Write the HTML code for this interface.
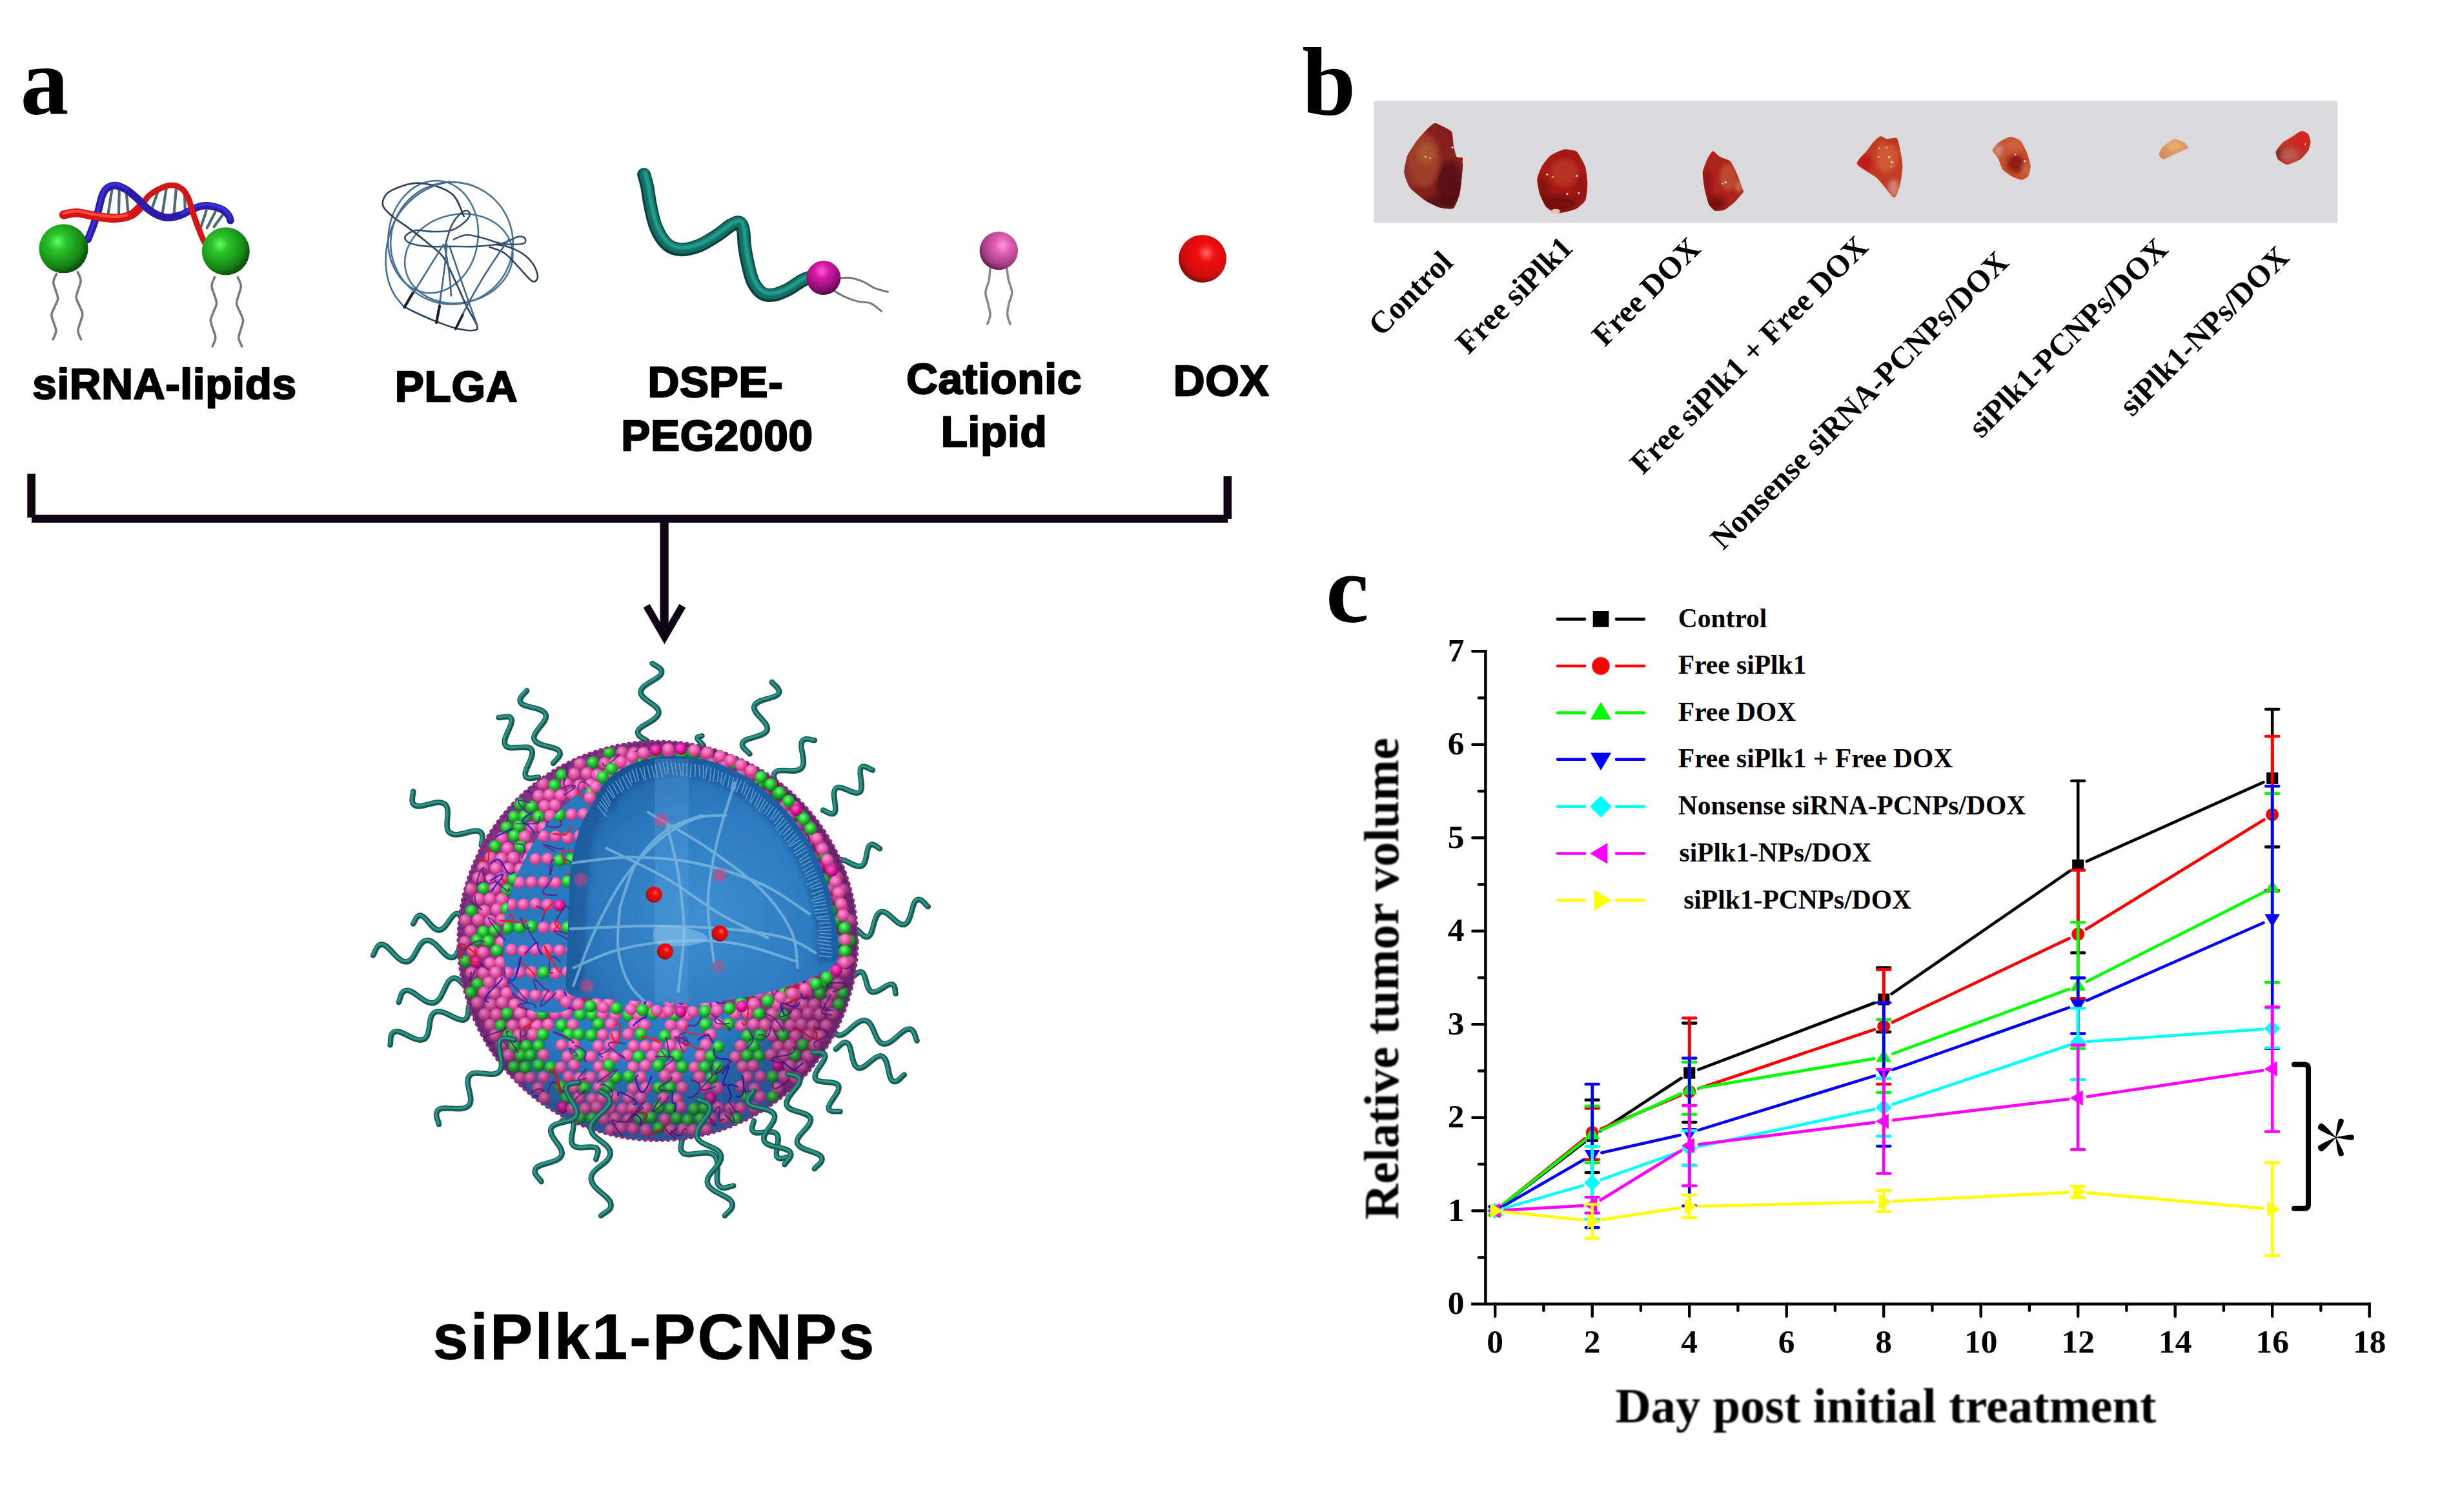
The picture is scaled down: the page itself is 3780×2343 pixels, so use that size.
<!DOCTYPE html>
<html><head><meta charset="utf-8"><title>Figure</title>
<style>html,body{margin:0;padding:0;background:#fff;}svg{display:block;}text{white-space:pre;}.cp{r:9.3px;fill:url(#bP)}.cg{r:9.6px;fill:url(#bG)}.cm{r:9.3px;fill:url(#bM)}</style></head><body>
<svg width="3780" height="2343" viewBox="0 0 3780 2343">
<defs>
<radialGradient id="gGreen" cx="0.38" cy="0.36" r="0.7"><stop offset="0" stop-color="#63ff63"/><stop offset="0.25" stop-color="#2bc32b"/><stop offset="0.7" stop-color="#168a16"/><stop offset="1" stop-color="#083f08"/></radialGradient>
<radialGradient id="gPink" cx="0.6" cy="0.36" r="0.7"><stop offset="0" stop-color="#ff9ae0"/><stop offset="0.3" stop-color="#e15fb4"/><stop offset="0.75" stop-color="#a23c82"/><stop offset="1" stop-color="#4a1840"/></radialGradient>
<radialGradient id="gMag" cx="0.45" cy="0.3" r="0.75"><stop offset="0" stop-color="#ff5ad8"/><stop offset="0.3" stop-color="#d417a6"/><stop offset="0.7" stop-color="#8f0f73"/><stop offset="1" stop-color="#3c0838"/></radialGradient>
<radialGradient id="gRed" cx="0.58" cy="0.38" r="0.7"><stop offset="0" stop-color="#ff6a6a"/><stop offset="0.25" stop-color="#f31212"/><stop offset="0.7" stop-color="#cf0a0a"/><stop offset="1" stop-color="#5e0505"/></radialGradient>
<linearGradient id="gTeal" x1="0" y1="0" x2="1" y2="1"><stop offset="0" stop-color="#17907f"/><stop offset="1" stop-color="#0f5a52"/></linearGradient>
<filter id="blur05" x="-20%" y="-20%" width="140%" height="140%"><feGaussianBlur stdDeviation="0.7"/></filter>
<filter id="blur1" x="-5%" y="-20%" width="110%" height="140%"><feGaussianBlur stdDeviation="1.3"/></filter>
<filter id="blur15" x="-10%" y="-10%" width="120%" height="120%"><feGaussianBlur stdDeviation="1.6"/></filter>
<filter id="blur3" x="-10%" y="-10%" width="120%" height="120%"><feGaussianBlur stdDeviation="3"/></filter>

<radialGradient id="npCav" gradientUnits="userSpaceOnUse" cx="1090" cy="1420" r="300"><stop offset="0" stop-color="#3f8fd0"/><stop offset="0.55" stop-color="#2c78bd"/><stop offset="1" stop-color="#1b579a"/></radialGradient>
<radialGradient id="npShade" gradientUnits="userSpaceOnUse" cx="979" cy="1418" r="317"><stop offset="0.72" stop-color="#000" stop-opacity="0"/><stop offset="1" stop-color="#200030" stop-opacity="0.3"/></radialGradient>
<radialGradient id="bP" cx="0.4" cy="0.35" r="0.65"><stop offset="0" stop-color="#ffa0dc"/><stop offset="0.5" stop-color="#ee5cae"/><stop offset="1" stop-color="#b8327e"/></radialGradient>
<radialGradient id="bG" cx="0.4" cy="0.35" r="0.65"><stop offset="0" stop-color="#7dff7d"/><stop offset="0.5" stop-color="#22cc33"/><stop offset="1" stop-color="#0f7a1c"/></radialGradient>
<radialGradient id="bM" cx="0.4" cy="0.35" r="0.65"><stop offset="0" stop-color="#ff60c8"/><stop offset="0.6" stop-color="#e0109a"/><stop offset="1" stop-color="#900a60"/></radialGradient>
<clipPath id="npClip"><circle cx="1019" cy="1458" r="308"/></clipPath>
</defs>
<rect width="3780" height="2343" fill="#fff"/>
<g font-family="Liberation Serif, serif" font-weight="bold" font-size="150" fill="#000">
<text x="31.5" y="175.5">a</text>
<text x="2017" y="177.5">b</text>
<text x="2054" y="963.5">c</text>
</g>
<g filter="url(#blur05)">
<g fill="none" stroke="#7a7a7a" stroke-width="3.6" stroke-linecap="round">
<path d="M87.5,424.6 C86.7,426.7 82.9,432.8 82.7,437 C82.4,441.2 85,445.6 86.2,449.9 C87.3,454.2 89.9,458.6 89.7,462.8 C89.4,467 86.4,471.1 84.8,475.2 C83.1,479.3 80.1,483.4 79.9,487.6 C79.6,491.8 82.2,496.2 83.4,500.5 C84.5,504.8 87.1,509.2 86.9,513.4 C86.6,517.6 82.8,523.7 82,525.8"/>
<path d="M120.3,421.6 C121.1,423.8 124.9,430.1 125.1,434.4 C125.4,438.8 122.8,443.3 121.6,447.7 C120.4,452.1 117.9,456.6 118.1,460.9 C118.3,465.2 121.3,469.4 123,473.7 C124.6,478 127.6,482.2 127.8,486.5 C128,490.9 125.5,495.3 124.3,499.8 C123.1,504.2 120.5,508.6 120.8,513 C121,517.3 124.8,523.7 125.6,525.8"/>
<path d="M332.6,429.6 C331.8,431.8 328.1,438.4 328,442.8 C327.8,447.3 330.5,451.8 331.7,456.3 C333,460.9 335.7,465.4 335.5,469.9 C335.4,474.3 332.4,478.7 330.9,483.1 C329.4,487.6 326.4,491.9 326.3,496.4 C326.1,500.9 328.8,505.4 330,509.9 C331.3,514.4 334,519 333.8,523.4 C333.7,527.9 330,534.5 329.2,536.7"/>
<path d="M368.3,429.6 C369.1,431.8 373,438.2 373.3,442.7 C373.6,447.2 371.1,451.8 369.9,456.3 C368.8,460.9 366.3,465.5 366.6,470 C366.8,474.5 369.9,478.8 371.6,483.1 C373.2,487.5 376.3,491.8 376.6,496.3 C376.9,500.7 374.3,505.4 373.2,509.9 C372.1,514.5 369.6,519.1 369.8,523.6 C370.1,528 374,534.5 374.8,536.7"/>
</g>
<g fill="none" stroke="#4d6b70" stroke-width="4.2" stroke-linecap="round">
<path d="M162.5,299.6 L151.4,331.3"/>
<path d="M173.8,291.7 L166.9,335.3"/>
<path d="M184.8,292.7 L183.8,337.3"/>
<path d="M195.7,297.6 L198.7,333.3"/>
<path d="M245.3,294.6 L235.4,323.4"/>
<path d="M258.2,288.7 L251.2,333.3"/>
<path d="M273.1,290.7 L269.1,335.7"/>
<path d="M286,300.6 L286.9,329.4"/>
<path d="M319.7,326.4 L310.8,353.2"/>
<path d="M333.6,328.4 L320.7,353.2"/>
<path d="M345.5,332.3 L331.6,351.2"/>
</g>
<path d="M136.2,371 C137.5,367.7 141.4,358.5 144.1,351.2 C146.7,343.9 149.6,335.5 152,327.4 C154.4,319.3 156.1,308.7 158.6,302.6 C161.1,296.5 163.2,293.2 166.9,290.7 C170.6,288.2 175.8,287 180.8,287.7 C185.8,288.4 191.4,291.3 196.7,294.6 C202,297.9 207.2,302.7 212.5,307.5 C217.8,312.3 223.1,319.1 228.4,323.4 C233.7,327.7 239,331 244.3,333.3 C249.6,335.6 254.2,337.3 260.2,337.3 C266.1,337.3 274.4,335.2 280,333.3 C285.6,331.5 288.6,328.7 293.9,326.4 C299.2,324.1 305.8,320.5 311.7,319.4 C317.7,318.4 324,318.8 329.6,319.8 C335.2,320.8 341.3,323 345.5,325.4 C349.6,327.8 352.5,331.6 354.4,334.3 C356.3,337 356.6,340.4 357,341.7" fill="none" stroke="#2a1ea8" stroke-width="11.5" stroke-linecap="round" stroke-linejoin="round"/>
<path d="M136.2,371 C137.5,367.7 141.4,358.5 144.1,351.2 C146.7,343.9 149.6,335.5 152,327.4 C154.4,319.3 156.1,308.7 158.6,302.6 C161.1,296.5 163.2,293.2 166.9,290.7 C170.6,288.2 175.8,287 180.8,287.7 C185.8,288.4 191.4,291.3 196.7,294.6 C202,297.9 207.2,302.7 212.5,307.5 C217.8,312.3 223.1,319.1 228.4,323.4 C233.7,327.7 239,331 244.3,333.3 C249.6,335.6 254.2,337.3 260.2,337.3 C266.1,337.3 274.4,335.2 280,333.3 C285.6,331.5 288.6,328.7 293.9,326.4 C299.2,324.1 305.8,320.5 311.7,319.4 C317.7,318.4 324,318.8 329.6,319.8 C335.2,320.8 341.3,323 345.5,325.4 C349.6,327.8 352.5,331.6 354.4,334.3 C356.3,337 356.6,340.4 357,341.7" fill="none" stroke="#3b2fe0" stroke-width="4" stroke-linecap="round" transform="translate(0,-2)"/>
<path d="M98.5,332.9 C101.9,332.4 110.9,329.4 119.3,329.8 C127.7,330.2 139.1,333.9 149,335.3 C159,336.7 169.9,338.6 178.8,338.3 C187.7,338 196,336.5 202.6,333.3 C209.2,330.2 215.8,321.8 218.5,319.4" fill="none" stroke="#d21414" stroke-width="13.5" stroke-linecap="round"/>
<path d="M98.5,332.9 C101.9,332.4 110.9,329.4 119.3,329.8 C127.7,330.2 139.1,333.9 149,335.3 C159,336.7 169.9,338.6 178.8,338.3 C187.7,338 196,336.5 202.6,333.3 C209.2,330.2 215.8,321.8 218.5,319.4" fill="none" stroke="#ff4a3c" stroke-width="4.5" stroke-linecap="round" transform="translate(0,-2.5)"/>
<path d="M202.6,333.3 C205.3,331 213.9,324.4 218.5,319.4 C223.1,314.5 225.4,308.1 230.4,303.6 C235.4,299 242.3,294.8 248.3,292.1 C254.2,289.3 260.5,286.8 266.1,286.9 C271.7,287 277.7,289.2 282,292.7 C286.3,296.1 289.1,301.4 291.9,307.5 C294.7,313.7 296.5,322.4 298.8,329.4 C301.2,336.3 303.3,342.6 305.8,349.2 C308.3,355.8 311.7,364.4 313.7,369 C315.7,373.7 317,375.7 317.7,377" fill="none" stroke="#d21414" stroke-width="9" stroke-linecap="round"/>
<path d="M196.7,294.6 C199.3,296.8 207.2,302.7 212.5,307.5 C217.8,312.3 223.1,319.1 228.4,323.4 C233.7,327.7 239,331 244.3,333.3 C249.6,335.6 254.2,337.3 260.2,337.3 C266.1,337.3 276.7,334 280,333.3" fill="none" stroke="#2a1ea8" stroke-width="11.5" stroke-linecap="butt"/>
<circle cx="98.5" cy="385.3" r="38" fill="url(#gGreen)"/>
<circle cx="349.8" cy="389.3" r="37" fill="url(#gGreen)"/>
</g>
<g fill="none" stroke="#4c7396" stroke-width="2.6" stroke-linecap="round" filter="url(#blur05)">
<ellipse cx="699.9" cy="376.9" rx="94.8" ry="94.8" transform="rotate(0 699.9 376.9)"/>
<ellipse cx="710.8" cy="400.7" rx="84.3" ry="68.5" transform="rotate(-12 710.8 400.7)"/>
<ellipse cx="671.1" cy="367" rx="69.4" ry="87.3" transform="rotate(8 671.1 367)"/>
<path d="M718.7,335.2 C715.4,329.3 710.5,308.1 698.9,299.5 C687.3,290.9 664.8,284.3 649.3,283.7 C633.7,283 615.1,290.3 605.6,295.6 C596.2,300.8 592.7,309.1 592.7,315.4 C592.7,321.7 598.5,326.6 605.6,333.3 C612.7,339.9 625.8,347.8 635.4,355.1 C645,362.4 654.6,369.6 663.2,376.9 C671.8,384.2 680,389.1 687,398.7 C693.9,408.3 698.9,421.9 704.8,434.4 C710.8,447 717.1,462.6 722.7,474.1 C728.3,485.7 736.6,497.6 738.6,503.9 C740.6,510.2 739.9,511 734.6,511.8 C729.3,512.7 716.7,511.2 706.8,508.8 C696.9,506.5 685.7,502.1 675.1,497.9 C664.5,493.8 651.6,487.9 643.3,484 C635.1,480.2 628.5,476.6 625.5,475.1" stroke="#2f3f52"/>
<path d="M625.5,475.1 C622.8,471.6 613.8,462.1 609.6,454.3 C605.4,446.5 602.1,438.1 600.1,428.5 C598.1,418.9 597,408 597.7,396.7 C598.4,385.5 600.4,372.3 604,361 C607.7,349.8 613,338.7 619.5,329.3 C626.1,319.9 634.7,311.3 643.3,304.5 C651.9,297.7 662.2,292.5 671.1,288.6 C680,284.7 692.6,282.5 696.9,281.3" stroke="#456c90"/>
<path d="M689,382.9 C690.6,377.6 695.3,359.4 698.9,351.1 C702.5,342.8 706.8,337.4 710.8,333.3 C714.8,329.1 719.9,326.3 722.7,326.3 C725.5,326.3 728.3,330.1 727.7,333.3 C727,336.4 723.5,341.2 718.7,345.2 C713.9,349.1 706.8,354.7 698.9,357.1 C691,359.4 680.4,359 671.1,359 C661.9,359 650.6,355.7 643.3,357.1 C636.1,358.4 628.8,363.7 627.5,367 C626.1,370.3 629.4,374.4 635.4,376.9 C641.3,379.4 652.6,381 663.2,381.9 C673.8,382.7 686.3,381.9 698.9,381.9 C711.5,381.9 725.3,382.7 738.6,381.9 C751.8,381 767.7,379.4 778.3,376.9 C788.8,374.4 796.3,368.3 802.1,367 C807.9,365.7 811.3,367.3 813,369 C814.6,370.6 815.1,375.3 812,376.9 C808.8,378.6 800.4,378.9 794.1,378.9 C787.8,378.9 781.9,378.6 774.3,376.9 C766.7,375.3 757.1,371.1 748.5,369 C739.9,366.8 730.3,363.7 722.7,364 C715.1,364.3 706.2,369.8 702.9,371" stroke="#35506c"/>
<path d="M758.4,382.9 C762.4,384.5 774.6,387.5 782.2,392.8 C789.8,398.1 797.1,407.5 804,414.6 C811,421.7 819.1,432.8 823.9,435.4 C828.7,438.1 832.2,434.3 832.8,430.5 C833.5,426.7 831.3,418.6 827.9,412.6 C824.4,406.7 818.6,399.7 812,394.8 C805.4,389.8 795.4,385.5 788.2,382.9 C780.9,380.2 771.6,379.6 768.3,378.9" stroke="#2f3f52"/>
<path d="M687,378.9 Q655.2,430.5 626.5,476.1" stroke="#41658a" stroke-width="2.6"/>
<path d="M692.5,378.9 Q687,438.4 676.1,499.9" stroke="#41658a" stroke-width="2.6"/>
<path d="M788.2,371 Q738.6,438.4 705.8,509.8" stroke="#41658a" stroke-width="2.6"/>
<path d="M696.9,382.9 Q718.7,448.3 739.6,504.9" stroke="#41658a" stroke-width="2.6"/>
<path d="M689,382.9 Q696.9,418.6 698.9,458.3" stroke="#41658a" stroke-width="2.6"/>
<path d="M639.4,454.3 L626.5,476.1" stroke="#1a222c" stroke-width="4.2"/>
<path d="M681,474.1 L676.1,499.9" stroke="#1a222c" stroke-width="4.2"/>
<path d="M716.7,488 L705.8,509.8" stroke="#1a222c" stroke-width="3.8"/>
</g>
<g filter="url(#blur05)">
<path d="M1297.2,431.3 C1300.5,431.2 1310.5,429.5 1317.1,430.4 C1323.7,431.2 1330.3,433.5 1336.9,436.3 C1343.5,439.1 1350.3,444.6 1356.7,447.2 C1363.2,449.9 1372.5,451.4 1375.6,452.2" fill="none" stroke="#777" stroke-width="3" stroke-linecap="round"/>
<path d="M1291.3,450.2 C1294.3,451.8 1302.9,457.3 1309.1,460.1 C1315.4,462.9 1322.4,465.4 1329,467.1 C1335.6,468.7 1342.7,467.5 1348.8,470 C1354.9,472.6 1362.9,480.3 1365.7,482.3" fill="none" stroke="#777" stroke-width="3" stroke-linecap="round"/>
<path d="M997.7,270.7 C998.5,273.8 1001,281.4 1002.7,289.5 C1004.3,297.6 1005.3,308.7 1007.6,319.3 C1009.9,329.8 1012.2,343.1 1016.5,353 C1020.8,362.9 1027,373.2 1033.4,378.8 C1039.8,384.4 1047,386.4 1055.2,386.7 C1063.5,387 1073.7,384.4 1083,380.8 C1092.2,377.1 1102.5,370.2 1110.8,364.9 C1119,359.6 1126.8,352.3 1132.6,349 C1138.4,345.7 1142.3,343.7 1145.5,345.1 C1148.6,346.4 1150.1,351 1151.4,357 C1152.8,362.9 1152.3,372.2 1153.4,380.8 C1154.6,389.4 1156.2,399.3 1158.4,408.5 C1160.5,417.8 1162.7,428.7 1166.3,436.3 C1169.9,443.9 1174.9,450.7 1180.2,454.2 C1185.5,457.6 1191.4,458 1198,457.1 C1204.7,456.3 1212.6,452.8 1219.9,449.2 C1227.1,445.6 1236.1,438.5 1241.7,435.3 C1247.3,432.2 1251.6,431.2 1253.6,430.4" fill="none" stroke="#0c3f3a" stroke-width="21" stroke-linecap="round" stroke-linejoin="round"/>
<path d="M997.7,270.7 C998.5,273.8 1001,281.4 1002.7,289.5 C1004.3,297.6 1005.3,308.7 1007.6,319.3 C1009.9,329.8 1012.2,343.1 1016.5,353 C1020.8,362.9 1027,373.2 1033.4,378.8 C1039.8,384.4 1047,386.4 1055.2,386.7 C1063.5,387 1073.7,384.4 1083,380.8 C1092.2,377.1 1102.5,370.2 1110.8,364.9 C1119,359.6 1126.8,352.3 1132.6,349 C1138.4,345.7 1142.3,343.7 1145.5,345.1 C1148.6,346.4 1150.1,351 1151.4,357 C1152.8,362.9 1152.3,372.2 1153.4,380.8 C1154.6,389.4 1156.2,399.3 1158.4,408.5 C1160.5,417.8 1162.7,428.7 1166.3,436.3 C1169.9,443.9 1174.9,450.7 1180.2,454.2 C1185.5,457.6 1191.4,458 1198,457.1 C1204.7,456.3 1212.6,452.8 1219.9,449.2 C1227.1,445.6 1236.1,438.5 1241.7,435.3 C1247.3,432.2 1251.6,431.2 1253.6,430.4" fill="none" stroke="#126c62" stroke-width="16" stroke-linecap="round" stroke-linejoin="round" transform="translate(0.5,-1.5)"/>
<path d="M997.7,270.7 C998.5,273.8 1001,281.4 1002.7,289.5 C1004.3,297.6 1005.3,308.7 1007.6,319.3 C1009.9,329.8 1012.2,343.1 1016.5,353 C1020.8,362.9 1027,373.2 1033.4,378.8 C1039.8,384.4 1047,386.4 1055.2,386.7 C1063.5,387 1073.7,384.4 1083,380.8 C1092.2,377.1 1102.5,370.2 1110.8,364.9 C1119,359.6 1126.8,352.3 1132.6,349 C1138.4,345.7 1142.3,343.7 1145.5,345.1 C1148.6,346.4 1150.1,351 1151.4,357 C1152.8,362.9 1152.3,372.2 1153.4,380.8 C1154.6,389.4 1156.2,399.3 1158.4,408.5 C1160.5,417.8 1162.7,428.7 1166.3,436.3 C1169.9,443.9 1174.9,450.7 1180.2,454.2 C1185.5,457.6 1191.4,458 1198,457.1 C1204.7,456.3 1212.6,452.8 1219.9,449.2 C1227.1,445.6 1236.1,438.5 1241.7,435.3 C1247.3,432.2 1251.6,431.2 1253.6,430.4" fill="none" stroke="#22a090" stroke-width="6" stroke-linecap="round" stroke-linejoin="round" transform="translate(1.5,-3)" filter="url(#blur15)"/>
<circle cx="1275.8" cy="430.4" r="26.5" fill="url(#gMag)"/>
</g>
<g filter="url(#blur05)">
<g fill="none" stroke="#8a8a8a" stroke-width="3.6" stroke-linecap="round">
<path d="M1534,415.3 C1533.7,418.5 1533.2,428.4 1532,434.8 C1530.8,441.1 1527,447 1526.8,453.2 C1526.7,459.3 1529.7,465.8 1530.9,471.6 C1532.1,477.4 1534.3,482.9 1534,488 C1533.8,493.2 1530.3,500 1529.5,502.4"/>
<path d="M1559.6,415.3 C1560.1,418.5 1561.3,428.4 1562.7,434.8 C1564.1,441.1 1567.8,447 1567.8,453.2 C1567.8,459.3 1563.9,465.8 1562.7,471.6 C1561.5,477.4 1560.2,482.9 1560.7,488 C1561.1,493.2 1564.4,500 1565.2,502.4"/>
</g>
<circle cx="1547.3" cy="388.6" r="29.7" fill="url(#gPink)"/>
</g>
<circle cx="1862.9" cy="400.9" r="37" fill="url(#gRed)" filter="url(#blur05)"/>
<g font-family="Liberation Sans, sans-serif" font-weight="bold" font-size="67.5" letter-spacing="0.7" fill="#000" stroke="#000" stroke-width="2.4" stroke-linejoin="round" text-anchor="middle">
<text x="255" y="618">siRNA-lipids</text>
<text x="707" y="622">PLGA</text>
<text x="1108.5" y="614.5">DSPE-</text>
<text x="1111" y="698">PEG2000</text>
<text x="1540" y="610">Cationic</text>
<text x="1540" y="691.5">Lipid</text>
<text x="1892" y="612.5">DOX</text>
</g>
<text x="1013.8" y="2105.5" font-family="Liberation Sans, sans-serif" font-weight="bold" font-size="100" letter-spacing="2.6" fill="#000" stroke="#000" stroke-width="0.6" text-anchor="middle">siPlk1-PCNPs</text>
<g fill="#0e0414">
<rect x="42.3" y="734" width="12.6" height="68"/>
<rect x="49" y="797.7" width="1853" height="12.2"/>
<rect x="1895.5" y="738" width="12.5" height="66"/>
<rect x="1022.5" y="804" width="13.2" height="176"/>
</g>
<polyline points="1001.6,938.8 1029.4,986.9 1057.2,938.8" fill="none" stroke="#0e0414" stroke-width="11.4" stroke-linejoin="miter" stroke-miterlimit="8" stroke-linecap="butt"/>
<g fill="none" stroke-linecap="round" stroke-linejoin="round" filter="url(#blur05)">
<path d="M1002.6,1148.4 C999.8,1145.1 985,1141.5 988.7,1132.4 C992.4,1123.3 1019.8,1116.7 1020.6,1104.3 C1021.4,1091.8 991.8,1084.6 992.6,1072.2 C993.5,1059.8 1020.8,1053.2 1024.6,1044.1 C1028.3,1035 1013.5,1031.4 1010.6,1028 M857.1,1182.8 C859,1178.8 872.2,1171.3 866.1,1163.6 C860,1156 831.9,1157.4 827.7,1145.8 C823.4,1134.2 849.8,1119 845.6,1107.4 C841.4,1095.8 813.3,1097.2 807.2,1089.6 C801.1,1081.9 814.3,1074.3 816.1,1070.4 M834,1204.6 C829.8,1204 816,1210.2 813.8,1201.4 C811.6,1192.5 829.8,1171.2 823.4,1161.6 C817.1,1152 789.4,1164.6 783.1,1155.1 C776.7,1145.5 794.9,1124.2 792.7,1115.3 C790.5,1106.4 776.7,1112.7 772.5,1112 M746,1310.4 C745.2,1305.9 752.3,1292.3 742.1,1288.2 C732,1284.1 708,1299.4 697,1290.7 C686.1,1282 700.2,1254.9 689.2,1246.2 C678.3,1237.5 654.2,1252.8 644.1,1248.7 C634,1244.6 641,1231.1 640.2,1226.5 M1161.4,1168.3 C1159.3,1164.5 1145.7,1157.6 1151.3,1149.9 C1157,1142.2 1185,1142.5 1188.6,1131 C1192.2,1119.5 1165,1105.9 1168.5,1094.4 C1172.1,1082.9 1200.2,1083.2 1205.8,1075.5 C1211.4,1067.8 1197.8,1060.9 1195.8,1057.1 M1083.3,1160.3 C1084.8,1159.5 1090.8,1159.9 1090.2,1156.5 C1089.6,1153.2 1081,1147.6 1080.4,1144.3 C1079.8,1140.9 1085.9,1141.3 1087.3,1140.5 M1202.4,1215.9 C1202.4,1211.7 1194.2,1201.2 1202.4,1195.8 C1210.6,1190.5 1233.8,1199.5 1242,1190.1 C1250.2,1180.6 1238,1158.9 1242.1,1150 C1246.2,1141.1 1257.8,1147.7 1261.9,1147.1 M1275.1,1255.6 C1278.9,1256.2 1289.3,1265.6 1293.5,1258.6 C1297.6,1251.5 1287.2,1227.9 1295.2,1221.5 C1303.1,1215 1323.9,1233.9 1331.8,1227.5 C1339.7,1221.1 1329.4,1197.4 1333.5,1190.4 C1337.7,1183.3 1348.1,1192.8 1351.9,1193.4 M1297,1348.1 C1298.2,1344.9 1295,1333.8 1302.9,1332.4 C1310.8,1331.1 1326,1346.4 1335.1,1341.8 C1344.2,1337.2 1341.2,1315.9 1347,1310.4 C1352.8,1304.9 1359.8,1314.1 1363.1,1315.1 M1328,1440.7 C1331.8,1442.8 1338.9,1456.3 1346.4,1450.5 C1354,1444.8 1353.2,1416.8 1364.6,1413.1 C1375.9,1409.4 1390,1436.4 1401.3,1432.7 C1412.6,1429 1411.9,1400.9 1419.5,1395.2 C1427,1389.5 1434,1403 1437.8,1405 M1321.4,1513.5 C1324.6,1512.3 1330.6,1502.7 1336.6,1507.6 C1342.6,1512.4 1341.3,1533.4 1350.4,1537 C1359.5,1540.7 1373,1524.6 1380.7,1525.2 C1388.4,1525.8 1386.1,1536.9 1387.6,1539.9 M1288.4,1586.2 C1291.2,1590 1291.1,1605.2 1302,1604.3 C1312.8,1603.3 1327.2,1578.7 1340.9,1581.5 C1354.6,1584.2 1354.4,1614.8 1368.1,1617.5 C1381.8,1620.2 1396.2,1595.7 1407,1594.7 C1417.9,1593.7 1417.8,1609 1420.6,1612.7 M1295,1625.9 C1298.8,1624 1306.4,1610.9 1313.5,1616.8 C1320.6,1622.8 1318.5,1650.8 1329.4,1654.9 C1340.3,1659 1355.4,1632.6 1366.4,1636.7 C1377.3,1640.8 1375.2,1668.7 1382.3,1674.7 C1389.4,1680.7 1397,1667.5 1400.8,1665.6 M1056.9,1764.8 C1057.5,1769.6 1049.9,1782.6 1060.1,1787.8 C1070.4,1793.1 1095.6,1780.3 1106.5,1790.3 C1117.5,1800.3 1106.9,1826.6 1113,1836.3 C1119.2,1846.1 1131.4,1837.3 1136.2,1837.6 M726.2,1559.8 C724.4,1564.1 728.4,1578.9 717.6,1580.7 C706.8,1582.5 686.5,1562.5 674,1568.6 C661.4,1574.8 669.3,1604.3 656.7,1610.5 C644.1,1616.6 623.9,1596.6 613.1,1598.4 C602.3,1600.2 606.3,1615 604.5,1619.3 M719.6,1526.7 C715.3,1524.7 708.7,1511.4 699,1517.1 C689.2,1522.7 686.3,1550.4 672.3,1554 C658.3,1557.6 642.3,1534.9 631,1534.7 C619.8,1534.5 620.5,1549.4 617.7,1553.2 M713,1467.2 C709.8,1470.6 708.3,1485.8 697.6,1483.8 C686.8,1481.7 674.8,1455.9 660.9,1457.2 C647,1458.6 644,1489 630.1,1490.4 C616.2,1491.8 604.2,1465.9 593.4,1463.8 C582.7,1461.8 581.2,1477 578,1480.4 M719.6,1427.5 C716.7,1425.2 713.8,1413.4 705.8,1416.2 C697.7,1419.1 691.4,1440.9 680.5,1441.4 C669.6,1442 661.2,1420.9 652.8,1418.9 C644.5,1416.8 642.8,1428.9 640.2,1431.5 M870.4,1737 C874,1737.4 884.5,1731.2 888.1,1739 C891.8,1746.8 880.6,1766.5 887.9,1774.7 C895.2,1782.9 916.1,1774.2 923.4,1778.7 C930.7,1783.2 923.3,1792.9 923.3,1796.6 M1168,1737 C1168,1740.6 1161,1750.3 1168.3,1754.4 C1175.5,1758.6 1195.7,1749.4 1203,1757.1 C1210.3,1764.9 1199.8,1784.4 1203.5,1791.9 C1207.3,1799.4 1217.3,1793 1220.9,1793.3 " stroke="#175c54" stroke-width="8.6"/>
<path d="M1002.6,1148.4 C999.8,1145.1 985,1141.5 988.7,1132.4 C992.4,1123.3 1019.8,1116.7 1020.6,1104.3 C1021.4,1091.8 991.8,1084.6 992.6,1072.2 C993.5,1059.8 1020.8,1053.2 1024.6,1044.1 C1028.3,1035 1013.5,1031.4 1010.6,1028 M857.1,1182.8 C859,1178.8 872.2,1171.3 866.1,1163.6 C860,1156 831.9,1157.4 827.7,1145.8 C823.4,1134.2 849.8,1119 845.6,1107.4 C841.4,1095.8 813.3,1097.2 807.2,1089.6 C801.1,1081.9 814.3,1074.3 816.1,1070.4 M834,1204.6 C829.8,1204 816,1210.2 813.8,1201.4 C811.6,1192.5 829.8,1171.2 823.4,1161.6 C817.1,1152 789.4,1164.6 783.1,1155.1 C776.7,1145.5 794.9,1124.2 792.7,1115.3 C790.5,1106.4 776.7,1112.7 772.5,1112 M746,1310.4 C745.2,1305.9 752.3,1292.3 742.1,1288.2 C732,1284.1 708,1299.4 697,1290.7 C686.1,1282 700.2,1254.9 689.2,1246.2 C678.3,1237.5 654.2,1252.8 644.1,1248.7 C634,1244.6 641,1231.1 640.2,1226.5 M1161.4,1168.3 C1159.3,1164.5 1145.7,1157.6 1151.3,1149.9 C1157,1142.2 1185,1142.5 1188.6,1131 C1192.2,1119.5 1165,1105.9 1168.5,1094.4 C1172.1,1082.9 1200.2,1083.2 1205.8,1075.5 C1211.4,1067.8 1197.8,1060.9 1195.8,1057.1 M1083.3,1160.3 C1084.8,1159.5 1090.8,1159.9 1090.2,1156.5 C1089.6,1153.2 1081,1147.6 1080.4,1144.3 C1079.8,1140.9 1085.9,1141.3 1087.3,1140.5 M1202.4,1215.9 C1202.4,1211.7 1194.2,1201.2 1202.4,1195.8 C1210.6,1190.5 1233.8,1199.5 1242,1190.1 C1250.2,1180.6 1238,1158.9 1242.1,1150 C1246.2,1141.1 1257.8,1147.7 1261.9,1147.1 M1275.1,1255.6 C1278.9,1256.2 1289.3,1265.6 1293.5,1258.6 C1297.6,1251.5 1287.2,1227.9 1295.2,1221.5 C1303.1,1215 1323.9,1233.9 1331.8,1227.5 C1339.7,1221.1 1329.4,1197.4 1333.5,1190.4 C1337.7,1183.3 1348.1,1192.8 1351.9,1193.4 M1297,1348.1 C1298.2,1344.9 1295,1333.8 1302.9,1332.4 C1310.8,1331.1 1326,1346.4 1335.1,1341.8 C1344.2,1337.2 1341.2,1315.9 1347,1310.4 C1352.8,1304.9 1359.8,1314.1 1363.1,1315.1 M1328,1440.7 C1331.8,1442.8 1338.9,1456.3 1346.4,1450.5 C1354,1444.8 1353.2,1416.8 1364.6,1413.1 C1375.9,1409.4 1390,1436.4 1401.3,1432.7 C1412.6,1429 1411.9,1400.9 1419.5,1395.2 C1427,1389.5 1434,1403 1437.8,1405 M1321.4,1513.5 C1324.6,1512.3 1330.6,1502.7 1336.6,1507.6 C1342.6,1512.4 1341.3,1533.4 1350.4,1537 C1359.5,1540.7 1373,1524.6 1380.7,1525.2 C1388.4,1525.8 1386.1,1536.9 1387.6,1539.9 M1288.4,1586.2 C1291.2,1590 1291.1,1605.2 1302,1604.3 C1312.8,1603.3 1327.2,1578.7 1340.9,1581.5 C1354.6,1584.2 1354.4,1614.8 1368.1,1617.5 C1381.8,1620.2 1396.2,1595.7 1407,1594.7 C1417.9,1593.7 1417.8,1609 1420.6,1612.7 M1295,1625.9 C1298.8,1624 1306.4,1610.9 1313.5,1616.8 C1320.6,1622.8 1318.5,1650.8 1329.4,1654.9 C1340.3,1659 1355.4,1632.6 1366.4,1636.7 C1377.3,1640.8 1375.2,1668.7 1382.3,1674.7 C1389.4,1680.7 1397,1667.5 1400.8,1665.6 M1056.9,1764.8 C1057.5,1769.6 1049.9,1782.6 1060.1,1787.8 C1070.4,1793.1 1095.6,1780.3 1106.5,1790.3 C1117.5,1800.3 1106.9,1826.6 1113,1836.3 C1119.2,1846.1 1131.4,1837.3 1136.2,1837.6 M726.2,1559.8 C724.4,1564.1 728.4,1578.9 717.6,1580.7 C706.8,1582.5 686.5,1562.5 674,1568.6 C661.4,1574.8 669.3,1604.3 656.7,1610.5 C644.1,1616.6 623.9,1596.6 613.1,1598.4 C602.3,1600.2 606.3,1615 604.5,1619.3 M719.6,1526.7 C715.3,1524.7 708.7,1511.4 699,1517.1 C689.2,1522.7 686.3,1550.4 672.3,1554 C658.3,1557.6 642.3,1534.9 631,1534.7 C619.8,1534.5 620.5,1549.4 617.7,1553.2 M713,1467.2 C709.8,1470.6 708.3,1485.8 697.6,1483.8 C686.8,1481.7 674.8,1455.9 660.9,1457.2 C647,1458.6 644,1489 630.1,1490.4 C616.2,1491.8 604.2,1465.9 593.4,1463.8 C582.7,1461.8 581.2,1477 578,1480.4 M719.6,1427.5 C716.7,1425.2 713.8,1413.4 705.8,1416.2 C697.7,1419.1 691.4,1440.9 680.5,1441.4 C669.6,1442 661.2,1420.9 652.8,1418.9 C644.5,1416.8 642.8,1428.9 640.2,1431.5 M870.4,1737 C874,1737.4 884.5,1731.2 888.1,1739 C891.8,1746.8 880.6,1766.5 887.9,1774.7 C895.2,1782.9 916.1,1774.2 923.4,1778.7 C930.7,1783.2 923.3,1792.9 923.3,1796.6 M1168,1737 C1168,1740.6 1161,1750.3 1168.3,1754.4 C1175.5,1758.6 1195.7,1749.4 1203,1757.1 C1210.3,1764.9 1199.8,1784.4 1203.5,1791.9 C1207.3,1799.4 1217.3,1793 1220.9,1793.3 " stroke="#2f9486" stroke-width="3.6" transform="translate(-1,-1)"/>
</g>
<g filter="url(#blur05)">
<circle cx="1019" cy="1458" r="310" fill="#8d3585" stroke="#8a2a70" stroke-width="3" stroke-dasharray="5 4"/>
<circle cx="1019" cy="1458" r="306" fill="none" stroke="#4a2fb0" stroke-width="2.5" stroke-dasharray="4 7"/>
<g clip-path="url(#npClip)">
<ellipse cx="1010" cy="1660" rx="200" ry="120" fill="#2b7cc2" filter="url(#blur3)"/>
<circle class="cg" cx="943.8" cy="1165.8"/>
<circle class="cp" cx="963.7" cy="1165.5"/>
<circle class="cp" cx="981.8" cy="1166.6"/>
<circle class="cp" cx="998.5" cy="1167.2"/>
<circle class="cg" cx="1017" cy="1166.9"/>
<circle class="cp" cx="1035.8" cy="1165.5"/>
<circle class="cg" cx="1055.8" cy="1168.5"/>
<circle class="cg" cx="1073.2" cy="1166.1"/>
<circle class="cp" cx="1093.8" cy="1169"/>
<circle class="cp" cx="898.3" cy="1183"/>
<circle class="cg" cx="918.5" cy="1181.6"/>
<circle class="cp" cx="936.6" cy="1182.5"/>
<circle class="cp" cx="952.4" cy="1181.8"/>
<circle class="cp" cx="971.6" cy="1184.6"/>
<circle class="cg" cx="989.7" cy="1183.7"/>
<circle class="cg" cx="1010.2" cy="1182.9"/>
<circle class="cp" cx="1028.4" cy="1181.6"/>
<circle class="cp" cx="1045" cy="1182.2"/>
<circle class="cg" cx="1066.1" cy="1183.1"/>
<circle class="cg" cx="1083.3" cy="1183.7"/>
<circle class="cp" cx="1102.4" cy="1182.6"/>
<circle class="cp" cx="1122.4" cy="1184.2"/>
<circle class="cg" cx="1138.8" cy="1183.7"/>
<circle class="cg" cx="870.2" cy="1201"/>
<circle class="cp" cx="889.6" cy="1198.7"/>
<circle class="cp" cx="909.2" cy="1198"/>
<circle class="cp" cx="925.6" cy="1200.6"/>
<circle class="cp" cx="943.1" cy="1199.5"/>
<circle class="cp" cx="961.3" cy="1200.2"/>
<circle class="cp" cx="982.8" cy="1199.8"/>
<circle class="cg" cx="1001.8" cy="1198.8"/>
<circle class="cp" cx="1019.7" cy="1199.9"/>
<circle class="cp" cx="1037.8" cy="1199.4"/>
<circle class="cp" cx="1057.5" cy="1201.3"/>
<circle class="cp" cx="1074.6" cy="1200.2"/>
<circle class="cp" cx="1091.5" cy="1200.4"/>
<circle class="cp" cx="1112.5" cy="1201.5"/>
<circle class="cm" cx="1131.8" cy="1198.7"/>
<circle class="cp" cx="1148.6" cy="1200.2"/>
<circle class="cp" cx="1165.8" cy="1199.4"/>
<circle class="cp" cx="840.9" cy="1214.2"/>
<circle class="cg" cx="859" cy="1216.8"/>
<circle class="cp" cx="877.9" cy="1214.7"/>
<circle class="cp" cx="897.6" cy="1217.2"/>
<circle class="cp" cx="914.9" cy="1215.5"/>
<circle class="cp" cx="954" cy="1217.3"/>
<circle class="cp" cx="973.7" cy="1217.2"/>
<circle class="cp" cx="990.1" cy="1215.4"/>
<circle class="cm" cx="1009" cy="1217.3"/>
<circle class="cg" cx="1030" cy="1214.3"/>
<circle class="cp" cx="1045.5" cy="1214.7"/>
<circle class="cp" cx="1064.3" cy="1215.7"/>
<circle class="cp" cx="1084.4" cy="1214.8"/>
<circle class="cg" cx="1100.6" cy="1215.4"/>
<circle class="cp" cx="1120.7" cy="1216"/>
<circle class="cg" cx="1141.6" cy="1216.5"/>
<circle class="cg" cx="1158.5" cy="1216.2"/>
<circle class="cg" cx="1177.7" cy="1213.9"/>
<circle class="cm" cx="1197.2" cy="1216.8"/>
<circle class="cp" cx="834.4" cy="1233.1"/>
<circle class="cp" cx="851.1" cy="1231.5"/>
<circle class="cp" cx="868.5" cy="1232.4"/>
<circle class="cp" cx="886.9" cy="1230.2"/>
<circle class="cp" cx="943.3" cy="1230.6"/>
<circle class="cp" cx="962.5" cy="1230.1"/>
<circle class="cp" cx="979.7" cy="1230.5"/>
<circle class="cg" cx="998.7" cy="1231.4"/>
<circle class="cp" cx="1017" cy="1233.4"/>
<circle class="cg" cx="1038" cy="1230.5"/>
<circle class="cg" cx="1055.1" cy="1231.3"/>
<circle class="cp" cx="1074.2" cy="1230.4"/>
<circle class="cp" cx="1094.7" cy="1233.9"/>
<circle class="cp" cx="1111.8" cy="1231.8"/>
<circle class="cp" cx="1128.8" cy="1230.3"/>
<circle class="cg" cx="1148.5" cy="1231"/>
<circle class="cp" cx="1169" cy="1230.6"/>
<circle class="cp" cx="1184.4" cy="1233.7"/>
<circle class="cg" cx="1205" cy="1230.5"/>
<circle class="cg" cx="805.2" cy="1246.2"/>
<circle class="cg" cx="823.7" cy="1250"/>
<circle class="cp" cx="843.7" cy="1248.9"/>
<circle class="cp" cx="859.8" cy="1247.6"/>
<circle class="cp" cx="933.9" cy="1249.2"/>
<circle class="cm" cx="953.9" cy="1249.2"/>
<circle class="cm" cx="971.7" cy="1247"/>
<circle class="cp" cx="992.2" cy="1250"/>
<circle class="cp" cx="1011" cy="1249.3"/>
<circle class="cp" cx="1029.5" cy="1249.1"/>
<circle class="cp" cx="1045.7" cy="1248.2"/>
<circle class="cg" cx="1064.8" cy="1246.2"/>
<circle class="cg" cx="1082.1" cy="1247.2"/>
<circle class="cg" cx="1101.6" cy="1248.9"/>
<circle class="cp" cx="1123" cy="1247.9"/>
<circle class="cg" cx="1141.5" cy="1250"/>
<circle class="cg" cx="1160.2" cy="1247.6"/>
<circle class="cg" cx="1175.9" cy="1247"/>
<circle class="cm" cx="1194.4" cy="1246.9"/>
<circle class="cp" cx="1214.7" cy="1249.7"/>
<circle class="cp" cx="1234.2" cy="1248"/>
<circle class="cg" cx="796.3" cy="1265.5"/>
<circle class="cg" cx="812.6" cy="1264.9"/>
<circle class="cg" cx="834.5" cy="1265.4"/>
<circle class="cp" cx="852.5" cy="1264.2"/>
<circle class="cp" cx="924.6" cy="1265.4"/>
<circle class="cg" cx="943.8" cy="1265.5"/>
<circle class="cp" cx="965" cy="1263.9"/>
<circle class="cp" cx="981.3" cy="1266.1"/>
<circle class="cp" cx="1001.2" cy="1263"/>
<circle class="cp" cx="1017.4" cy="1262.9"/>
<circle class="cp" cx="1039.1" cy="1265.5"/>
<circle class="cp" cx="1054.7" cy="1265.6"/>
<circle class="cp" cx="1076.6" cy="1264.9"/>
<circle class="cp" cx="1092.7" cy="1264.5"/>
<circle class="cg" cx="1110.4" cy="1262.3"/>
<circle class="cp" cx="1132.4" cy="1264.9"/>
<circle class="cg" cx="1149.2" cy="1266"/>
<circle class="cp" cx="1167.4" cy="1265.8"/>
<circle class="cp" cx="1187.6" cy="1263.1"/>
<circle class="cg" cx="1203.9" cy="1263.4"/>
<circle class="cp" cx="1222.5" cy="1264.6"/>
<circle class="cg" cx="1241.1" cy="1264"/>
<circle class="cg" cx="784.9" cy="1282.1"/>
<circle class="cg" cx="804.4" cy="1280.3"/>
<circle class="cp" cx="823.9" cy="1282.1"/>
<circle class="cp" cx="841.9" cy="1282.1"/>
<circle class="cp" cx="916.6" cy="1280.6"/>
<circle class="cg" cx="935.3" cy="1278.5"/>
<circle class="cg" cx="953.6" cy="1279.2"/>
<circle class="cp" cx="970.4" cy="1281.7"/>
<circle class="cp" cx="989.7" cy="1280.3"/>
<circle class="cp" cx="1010.5" cy="1280.7"/>
<circle class="cg" cx="1027.5" cy="1280.5"/>
<circle class="cp" cx="1047" cy="1281.6"/>
<circle class="cp" cx="1063.8" cy="1280.7"/>
<circle class="cp" cx="1083" cy="1279.6"/>
<circle class="cp" cx="1103.7" cy="1280.5"/>
<circle class="cp" cx="1121.4" cy="1281.5"/>
<circle class="cg" cx="1141.4" cy="1280.2"/>
<circle class="cp" cx="1158.9" cy="1280.5"/>
<circle class="cp" cx="1177" cy="1281.2"/>
<circle class="cg" cx="1195.4" cy="1280.6"/>
<circle class="cp" cx="1214.1" cy="1282.2"/>
<circle class="cp" cx="1233.6" cy="1282"/>
<circle class="cp" cx="1253.2" cy="1279.5"/>
<circle class="cp" cx="777.3" cy="1298.4"/>
<circle class="cg" cx="797.1" cy="1295.2"/>
<circle class="cp" cx="812.8" cy="1296.4"/>
<circle class="cp" cx="905.6" cy="1295.6"/>
<circle class="cp" cx="924.2" cy="1297.3"/>
<circle class="cp" cx="945.6" cy="1298.2"/>
<circle class="cg" cx="961.7" cy="1297.5"/>
<circle class="cp" cx="982.3" cy="1295.2"/>
<circle class="cm" cx="1001.8" cy="1298.5"/>
<circle class="cp" cx="1017.8" cy="1298.4"/>
<circle class="cg" cx="1037.1" cy="1296.6"/>
<circle class="cg" cx="1058.1" cy="1298"/>
<circle class="cp" cx="1073.3" cy="1296.4"/>
<circle class="cp" cx="1093.4" cy="1296"/>
<circle class="cp" cx="1110.7" cy="1295.9"/>
<circle class="cp" cx="1131.4" cy="1294.7"/>
<circle class="cp" cx="1149.3" cy="1296.4"/>
<circle class="cp" cx="1165.8" cy="1296"/>
<circle class="cm" cx="1186.8" cy="1296.7"/>
<circle class="cm" cx="1203.2" cy="1298.6"/>
<circle class="cg" cx="1224.7" cy="1298.5"/>
<circle class="cp" cx="1240.5" cy="1295.7"/>
<circle class="cp" cx="1258.9" cy="1297.8"/>
<circle class="cg" cx="766.9" cy="1311.3"/>
<circle class="cp" cx="786.1" cy="1314.5"/>
<circle class="cg" cx="806.3" cy="1311.9"/>
<circle class="cp" cx="822.2" cy="1314.5"/>
<circle class="cm" cx="898.3" cy="1313.6"/>
<circle class="cp" cx="915" cy="1311.1"/>
<circle class="cg" cx="936" cy="1312.5"/>
<circle class="cp" cx="952.1" cy="1314.6"/>
<circle class="cp" cx="972.9" cy="1314"/>
<circle class="cp" cx="989.3" cy="1314.2"/>
<circle class="cg" cx="1007.9" cy="1314.3"/>
<circle class="cp" cx="1028" cy="1312.2"/>
<circle class="cp" cx="1047" cy="1314.5"/>
<circle class="cp" cx="1064.5" cy="1311.3"/>
<circle class="cg" cx="1084.1" cy="1311.8"/>
<circle class="cp" cx="1101" cy="1311.5"/>
<circle class="cp" cx="1119.4" cy="1311.6"/>
<circle class="cp" cx="1139" cy="1312"/>
<circle class="cp" cx="1159.4" cy="1312"/>
<circle class="cg" cx="1177" cy="1311.5"/>
<circle class="cg" cx="1195" cy="1310.9"/>
<circle class="cp" cx="1213.2" cy="1310.9"/>
<circle class="cp" cx="1233.7" cy="1313"/>
<circle class="cp" cx="1250.2" cy="1312.7"/>
<circle class="cp" cx="1271.7" cy="1311.2"/>
<circle class="cp" cx="759.8" cy="1328.7"/>
<circle class="cp" cx="777.1" cy="1330.3"/>
<circle class="cp" cx="795.3" cy="1329"/>
<circle class="cp" cx="815.1" cy="1330.9"/>
<circle class="cg" cx="906.7" cy="1330.3"/>
<circle class="cg" cx="926.7" cy="1329.5"/>
<circle class="cp" cx="944.1" cy="1328.4"/>
<circle class="cp" cx="961.3" cy="1327.5"/>
<circle class="cp" cx="980" cy="1330"/>
<circle class="cg" cx="999.3" cy="1327.7"/>
<circle class="cp" cx="1017.2" cy="1330.4"/>
<circle class="cg" cx="1039" cy="1329.7"/>
<circle class="cp" cx="1055.2" cy="1328"/>
<circle class="cg" cx="1073.9" cy="1328.8"/>
<circle class="cp" cx="1091.9" cy="1328.8"/>
<circle class="cg" cx="1111" cy="1330.8"/>
<circle class="cg" cx="1132.4" cy="1329.2"/>
<circle class="cp" cx="1148.1" cy="1330.9"/>
<circle class="cp" cx="1166.9" cy="1328.4"/>
<circle class="cg" cx="1184.3" cy="1328.5"/>
<circle class="cp" cx="1204.8" cy="1329"/>
<circle class="cg" cx="1222.3" cy="1329"/>
<circle class="cp" cx="1240.1" cy="1328.1"/>
<circle class="cp" cx="1259.1" cy="1328.6"/>
<circle class="cg" cx="1277.5" cy="1327.1"/>
<circle class="cp" cx="748.4" cy="1344.1"/>
<circle class="cp" cx="768.1" cy="1345.3"/>
<circle class="cp" cx="787.4" cy="1345.8"/>
<circle class="cp" cx="805.9" cy="1346.7"/>
<circle class="cp" cx="897.6" cy="1344.5"/>
<circle class="cp" cx="918.5" cy="1343.8"/>
<circle class="cp" cx="936.1" cy="1345.8"/>
<circle class="cp" cx="952" cy="1346.5"/>
<circle class="cp" cx="974" cy="1345.7"/>
<circle class="cg" cx="991.9" cy="1346.4"/>
<circle class="cg" cx="1008.2" cy="1345.3"/>
<circle class="cg" cx="1028.2" cy="1346.5"/>
<circle class="cp" cx="1048" cy="1346.5"/>
<circle class="cg" cx="1065.7" cy="1346.8"/>
<circle class="cp" cx="1084.7" cy="1346"/>
<circle class="cg" cx="1101.5" cy="1343.3"/>
<circle class="cp" cx="1119.7" cy="1344.6"/>
<circle class="cg" cx="1138.2" cy="1346.5"/>
<circle class="cg" cx="1158.6" cy="1345.7"/>
<circle class="cp" cx="1177.5" cy="1345.9"/>
<circle class="cp" cx="1195.6" cy="1343.2"/>
<circle class="cp" cx="1215.4" cy="1346.2"/>
<circle class="cp" cx="1232.8" cy="1345.3"/>
<circle class="cp" cx="1252" cy="1343.4"/>
<circle class="cm" cx="1270.9" cy="1344.2"/>
<circle class="cp" cx="1286.9" cy="1344.2"/>
<circle class="cp" cx="740.8" cy="1360.2"/>
<circle class="cp" cx="759.5" cy="1363.3"/>
<circle class="cp" cx="777.1" cy="1360.9"/>
<circle class="cg" cx="795.6" cy="1362.1"/>
<circle class="cp" cx="889.8" cy="1361.8"/>
<circle class="cp" cx="907.9" cy="1359.7"/>
<circle class="cg" cx="924.5" cy="1360.4"/>
<circle class="cp" cx="945.5" cy="1360.6"/>
<circle class="cp" cx="963.4" cy="1359.4"/>
<circle class="cp" cx="979.9" cy="1360.4"/>
<circle class="cp" cx="1001" cy="1362.1"/>
<circle class="cp" cx="1019.6" cy="1360.5"/>
<circle class="cg" cx="1037.6" cy="1361.2"/>
<circle class="cp" cx="1056" cy="1359.8"/>
<circle class="cg" cx="1076.3" cy="1360.2"/>
<circle class="cg" cx="1095.2" cy="1363.1"/>
<circle class="cp" cx="1110" cy="1361.2"/>
<circle class="cp" cx="1131.8" cy="1363.2"/>
<circle class="cp" cx="1148.9" cy="1360.4"/>
<circle class="cp" cx="1166.5" cy="1363.1"/>
<circle class="cp" cx="1185.1" cy="1361.7"/>
<circle class="cp" cx="1203.5" cy="1361.5"/>
<circle class="cp" cx="1225.3" cy="1359.9"/>
<circle class="cp" cx="1243.4" cy="1361.4"/>
<circle class="cp" cx="1262.2" cy="1362.2"/>
<circle class="cg" cx="1278.2" cy="1363"/>
<circle class="cp" cx="1297.8" cy="1359.5"/>
<circle class="cp" cx="728.6" cy="1377.5"/>
<circle class="cg" cx="749" cy="1376.8"/>
<circle class="cp" cx="766.4" cy="1376.9"/>
<circle class="cg" cx="785.7" cy="1378.9"/>
<circle class="cg" cx="896" cy="1378.6"/>
<circle class="cp" cx="918" cy="1376"/>
<circle class="cp" cx="936.9" cy="1378.4"/>
<circle class="cg" cx="955.4" cy="1376.7"/>
<circle class="cp" cx="971.9" cy="1377.1"/>
<circle class="cp" cx="993" cy="1377.9"/>
<circle class="cg" cx="1009" cy="1377.3"/>
<circle class="cg" cx="1027.3" cy="1375.7"/>
<circle class="cp" cx="1045.2" cy="1378.9"/>
<circle class="cp" cx="1064.5" cy="1379.3"/>
<circle class="cp" cx="1083" cy="1376.6"/>
<circle class="cp" cx="1102.6" cy="1376.3"/>
<circle class="cm" cx="1120.7" cy="1379.4"/>
<circle class="cg" cx="1141.3" cy="1378.8"/>
<circle class="cg" cx="1158.9" cy="1379.2"/>
<circle class="cg" cx="1178.8" cy="1377.7"/>
<circle class="cg" cx="1196.5" cy="1375.7"/>
<circle class="cp" cx="1215.1" cy="1377.4"/>
<circle class="cp" cx="1233.8" cy="1378.1"/>
<circle class="cg" cx="1250.5" cy="1375.7"/>
<circle class="cg" cx="1271.7" cy="1376.1"/>
<circle class="cp" cx="1288.5" cy="1376.9"/>
<circle class="cp" cx="1306.4" cy="1378.5"/>
<circle class="cp" cx="741.8" cy="1392.8"/>
<circle class="cp" cx="759.1" cy="1392.9"/>
<circle class="cp" cx="777.3" cy="1393.3"/>
<circle class="cp" cx="887.4" cy="1392.4"/>
<circle class="cp" cx="906.1" cy="1395.4"/>
<circle class="cp" cx="925.9" cy="1392.6"/>
<circle class="cp" cx="946.1" cy="1395.7"/>
<circle class="cp" cx="962.9" cy="1392.3"/>
<circle class="cm" cx="980.5" cy="1392.1"/>
<circle class="cg" cx="999.7" cy="1392.1"/>
<circle class="cg" cx="1017.9" cy="1392.8"/>
<circle class="cp" cx="1037.8" cy="1395.3"/>
<circle class="cg" cx="1057.1" cy="1393.4"/>
<circle class="cg" cx="1074.4" cy="1393.8"/>
<circle class="cg" cx="1092.8" cy="1393.1"/>
<circle class="cp" cx="1110.1" cy="1392.8"/>
<circle class="cg" cx="1132.4" cy="1392.2"/>
<circle class="cp" cx="1149.1" cy="1394.2"/>
<circle class="cg" cx="1169.2" cy="1392.6"/>
<circle class="cp" cx="1185.4" cy="1392.7"/>
<circle class="cp" cx="1204.5" cy="1393.5"/>
<circle class="cg" cx="1225.3" cy="1395.1"/>
<circle class="cp" cx="1243.6" cy="1391.8"/>
<circle class="cp" cx="1258.8" cy="1394.6"/>
<circle class="cp" cx="1280.9" cy="1393.6"/>
<circle class="cp" cx="1298.2" cy="1391.7"/>
<circle class="cg" cx="730.2" cy="1411.6"/>
<circle class="cp" cx="750.5" cy="1411.3"/>
<circle class="cp" cx="769.7" cy="1408.9"/>
<circle class="cg" cx="784.8" cy="1408.5"/>
<circle class="cp" cx="898.1" cy="1410.6"/>
<circle class="cp" cx="918.4" cy="1410.8"/>
<circle class="cg" cx="935.8" cy="1411"/>
<circle class="cp" cx="953.6" cy="1410.1"/>
<circle class="cp" cx="970.6" cy="1411"/>
<circle class="cp" cx="989.9" cy="1411.6"/>
<circle class="cp" cx="1010.2" cy="1409.1"/>
<circle class="cp" cx="1026.7" cy="1408.9"/>
<circle class="cp" cx="1047.3" cy="1410.7"/>
<circle class="cp" cx="1063.8" cy="1408.2"/>
<circle class="cp" cx="1084.1" cy="1410.2"/>
<circle class="cp" cx="1102.2" cy="1408.8"/>
<circle class="cp" cx="1121.6" cy="1408"/>
<circle class="cp" cx="1139" cy="1409.8"/>
<circle class="cp" cx="1160.2" cy="1410.5"/>
<circle class="cp" cx="1178.5" cy="1409.8"/>
<circle class="cg" cx="1194.5" cy="1408.9"/>
<circle class="cp" cx="1216" cy="1410.7"/>
<circle class="cp" cx="1232" cy="1408"/>
<circle class="cg" cx="1251.4" cy="1410.6"/>
<circle class="cp" cx="1269.7" cy="1408.9"/>
<circle class="cg" cx="1289.3" cy="1411.6"/>
<circle class="cp" cx="1306.1" cy="1408"/>
<circle class="cp" cx="720.7" cy="1425.8"/>
<circle class="cp" cx="740.6" cy="1424.9"/>
<circle class="cp" cx="759.7" cy="1427.1"/>
<circle class="cp" cx="777.1" cy="1424.9"/>
<circle class="cp" cx="890.6" cy="1425.3"/>
<circle class="cp" cx="908.6" cy="1425"/>
<circle class="cp" cx="924.8" cy="1427.1"/>
<circle class="cp" cx="943.7" cy="1427.9"/>
<circle class="cp" cx="963.1" cy="1424.8"/>
<circle class="cp" cx="980.6" cy="1425.8"/>
<circle class="cp" cx="1001" cy="1427.9"/>
<circle class="cg" cx="1017.5" cy="1425.7"/>
<circle class="cp" cx="1036.4" cy="1428"/>
<circle class="cp" cx="1054.7" cy="1424.3"/>
<circle class="cp" cx="1072.9" cy="1425.7"/>
<circle class="cp" cx="1094.9" cy="1427.6"/>
<circle class="cm" cx="1112.8" cy="1428.1"/>
<circle class="cp" cx="1132.2" cy="1425.4"/>
<circle class="cg" cx="1147.8" cy="1427.8"/>
<circle class="cp" cx="1168.7" cy="1424.2"/>
<circle class="cp" cx="1187" cy="1425.6"/>
<circle class="cg" cx="1204.4" cy="1425.4"/>
<circle class="cp" cx="1222.2" cy="1424.1"/>
<circle class="cp" cx="1241.2" cy="1425.5"/>
<circle class="cp" cx="1262.5" cy="1424.6"/>
<circle class="cp" cx="1281.2" cy="1424.9"/>
<circle class="cg" cx="1297.3" cy="1427.4"/>
<circle class="cp" cx="1317.8" cy="1425.8"/>
<circle class="cp" cx="728.8" cy="1442.2"/>
<circle class="cg" cx="748.7" cy="1444"/>
<circle class="cg" cx="766.6" cy="1441.7"/>
<circle class="cp" cx="899.6" cy="1440.4"/>
<circle class="cp" cx="916.2" cy="1443.5"/>
<circle class="cp" cx="936.3" cy="1440.4"/>
<circle class="cg" cx="951.9" cy="1440.5"/>
<circle class="cp" cx="974.1" cy="1441.3"/>
<circle class="cg" cx="992" cy="1443.9"/>
<circle class="cg" cx="1009" cy="1441.4"/>
<circle class="cp" cx="1030" cy="1442.7"/>
<circle class="cg" cx="1045.8" cy="1443.1"/>
<circle class="cg" cx="1064.7" cy="1441.4"/>
<circle class="cg" cx="1082" cy="1443.3"/>
<circle class="cp" cx="1104.3" cy="1442.8"/>
<circle class="cg" cx="1123" cy="1440.4"/>
<circle class="cg" cx="1138.7" cy="1442.2"/>
<circle class="cg" cx="1160.2" cy="1444.1"/>
<circle class="cp" cx="1176.5" cy="1441.3"/>
<circle class="cg" cx="1195.3" cy="1442.2"/>
<circle class="cp" cx="1215.9" cy="1441"/>
<circle class="cg" cx="1234" cy="1443.2"/>
<circle class="cp" cx="1252.7" cy="1443.4"/>
<circle class="cp" cx="1270.4" cy="1441.6"/>
<circle class="cm" cx="1287.9" cy="1441.7"/>
<circle class="cp" cx="1308.3" cy="1440.6"/>
<circle class="cp" cx="720.1" cy="1459.5"/>
<circle class="cg" cx="738.9" cy="1456.7"/>
<circle class="cg" cx="756.6" cy="1458.7"/>
<circle class="cp" cx="776.4" cy="1460.4"/>
<circle class="cp" cx="890.2" cy="1460.4"/>
<circle class="cp" cx="906.4" cy="1456.8"/>
<circle class="cp" cx="924.3" cy="1458.5"/>
<circle class="cg" cx="945.3" cy="1458.2"/>
<circle class="cp" cx="962" cy="1458.1"/>
<circle class="cp" cx="982.2" cy="1459.2"/>
<circle class="cp" cx="1001.3" cy="1459.8"/>
<circle class="cp" cx="1019.6" cy="1456.9"/>
<circle class="cp" cx="1038.9" cy="1457.6"/>
<circle class="cg" cx="1056.4" cy="1457.9"/>
<circle class="cg" cx="1075.7" cy="1457.3"/>
<circle class="cp" cx="1092.3" cy="1457.4"/>
<circle class="cp" cx="1110.5" cy="1460"/>
<circle class="cp" cx="1130.8" cy="1457.8"/>
<circle class="cp" cx="1148.7" cy="1460.4"/>
<circle class="cp" cx="1167.7" cy="1457.4"/>
<circle class="cp" cx="1187.5" cy="1459.1"/>
<circle class="cp" cx="1206.9" cy="1456.9"/>
<circle class="cp" cx="1223.4" cy="1459.7"/>
<circle class="cg" cx="1243.5" cy="1460.1"/>
<circle class="cp" cx="1258.9" cy="1457.6"/>
<circle class="cg" cx="1277.8" cy="1457.2"/>
<circle class="cg" cx="1299.8" cy="1458.8"/>
<circle class="cg" cx="1318.2" cy="1457.9"/>
<circle class="cp" cx="732.1" cy="1474.4"/>
<circle class="cp" cx="748.2" cy="1475.8"/>
<circle class="cg" cx="769.6" cy="1473.1"/>
<circle class="cp" cx="898.4" cy="1475.1"/>
<circle class="cp" cx="915.5" cy="1474.1"/>
<circle class="cp" cx="933.8" cy="1473.5"/>
<circle class="cp" cx="952.8" cy="1475"/>
<circle class="cg" cx="973" cy="1473.5"/>
<circle class="cg" cx="989" cy="1473.9"/>
<circle class="cp" cx="1010.3" cy="1473.4"/>
<circle class="cm" cx="1027.4" cy="1473.5"/>
<circle class="cp" cx="1048" cy="1474.8"/>
<circle class="cp" cx="1063.7" cy="1473"/>
<circle class="cg" cx="1083.6" cy="1474.8"/>
<circle class="cp" cx="1103.2" cy="1473"/>
<circle class="cp" cx="1119.9" cy="1475.4"/>
<circle class="cp" cx="1139.4" cy="1473.8"/>
<circle class="cp" cx="1157.6" cy="1476.5"/>
<circle class="cg" cx="1176.2" cy="1474.9"/>
<circle class="cg" cx="1195" cy="1474.3"/>
<circle class="cp" cx="1215.7" cy="1476.6"/>
<circle class="cp" cx="1232.3" cy="1473.4"/>
<circle class="cp" cx="1252.3" cy="1473.5"/>
<circle class="cp" cx="1268" cy="1476.2"/>
<circle class="cp" cx="1288.3" cy="1475.9"/>
<circle class="cp" cx="1306.8" cy="1476.2"/>
<circle class="cg" cx="721.1" cy="1489.5"/>
<circle class="cm" cx="738" cy="1491"/>
<circle class="cp" cx="759.1" cy="1492.5"/>
<circle class="cp" cx="775.5" cy="1491.3"/>
<circle class="cp" cx="906.8" cy="1490.8"/>
<circle class="cm" cx="924.5" cy="1490"/>
<circle class="cp" cx="944.6" cy="1492.5"/>
<circle class="cp" cx="961.5" cy="1490.8"/>
<circle class="cg" cx="982.9" cy="1492.7"/>
<circle class="cp" cx="999.1" cy="1489.3"/>
<circle class="cp" cx="1020.7" cy="1492.7"/>
<circle class="cm" cx="1037.4" cy="1489"/>
<circle class="cg" cx="1057.8" cy="1490.4"/>
<circle class="cp" cx="1076.3" cy="1491.3"/>
<circle class="cp" cx="1094.6" cy="1489.5"/>
<circle class="cg" cx="1113" cy="1489.7"/>
<circle class="cg" cx="1130.1" cy="1492.2"/>
<circle class="cg" cx="1150.4" cy="1489.6"/>
<circle class="cm" cx="1166.6" cy="1490.4"/>
<circle class="cg" cx="1186.4" cy="1490.4"/>
<circle class="cp" cx="1203.4" cy="1489.8"/>
<circle class="cp" cx="1224.4" cy="1492.4"/>
<circle class="cp" cx="1240.3" cy="1491.1"/>
<circle class="cp" cx="1261.7" cy="1489"/>
<circle class="cp" cx="1280.7" cy="1489.3"/>
<circle class="cp" cx="1298.3" cy="1491"/>
<circle class="cp" cx="1317" cy="1490"/>
<circle class="cp" cx="730.3" cy="1507.3"/>
<circle class="cp" cx="748.9" cy="1507.6"/>
<circle class="cp" cx="767.6" cy="1506.8"/>
<circle class="cm" cx="896.1" cy="1507.5"/>
<circle class="cp" cx="916.6" cy="1505.9"/>
<circle class="cp" cx="936.3" cy="1508.1"/>
<circle class="cp" cx="953.6" cy="1505.7"/>
<circle class="cg" cx="972.3" cy="1505.4"/>
<circle class="cp" cx="989.5" cy="1506.7"/>
<circle class="cg" cx="1008" cy="1506.8"/>
<circle class="cp" cx="1028.2" cy="1505.2"/>
<circle class="cp" cx="1047.3" cy="1505.3"/>
<circle class="cg" cx="1066.3" cy="1508.1"/>
<circle class="cp" cx="1084" cy="1505.2"/>
<circle class="cg" cx="1102.6" cy="1506.5"/>
<circle class="cp" cx="1123" cy="1505.5"/>
<circle class="cp" cx="1141.2" cy="1509"/>
<circle class="cp" cx="1159.3" cy="1508.3"/>
<circle class="cp" cx="1175.8" cy="1508.9"/>
<circle class="cg" cx="1195.6" cy="1508.8"/>
<circle class="cp" cx="1215.9" cy="1505.7"/>
<circle class="cm" cx="1234" cy="1508.7"/>
<circle class="cp" cx="1249.7" cy="1506.4"/>
<circle class="cp" cx="1271" cy="1505.6"/>
<circle class="cp" cx="1290.2" cy="1506.1"/>
<circle class="cp" cx="1308.5" cy="1505.6"/>
<circle class="cg" cx="739.9" cy="1524.9"/>
<circle class="cp" cx="757.3" cy="1522.2"/>
<circle class="cp" cx="777.1" cy="1522.5"/>
<circle class="cp" cx="905.4" cy="1521.9"/>
<circle class="cp" cx="924.5" cy="1524.9"/>
<circle class="cg" cx="945.2" cy="1524.8"/>
<circle class="cp" cx="961.8" cy="1524.3"/>
<circle class="cg" cx="980.2" cy="1523.3"/>
<circle class="cp" cx="1000.8" cy="1522.6"/>
<circle class="cp" cx="1020.4" cy="1523.4"/>
<circle class="cg" cx="1037.8" cy="1524.7"/>
<circle class="cp" cx="1054.5" cy="1525.2"/>
<circle class="cg" cx="1075.2" cy="1522.8"/>
<circle class="cp" cx="1094.5" cy="1522.2"/>
<circle class="cp" cx="1113.9" cy="1523.5"/>
<circle class="cp" cx="1129.9" cy="1524.2"/>
<circle class="cp" cx="1148.9" cy="1521.9"/>
<circle class="cg" cx="1168.7" cy="1521.4"/>
<circle class="cp" cx="1187.6" cy="1522.2"/>
<circle class="cp" cx="1205.5" cy="1525.1"/>
<circle class="cp" cx="1223.8" cy="1523.8"/>
<circle class="cp" cx="1241.4" cy="1521.2"/>
<circle class="cp" cx="1258.8" cy="1521.8"/>
<circle class="cg" cx="1279.8" cy="1522.9"/>
<circle class="cp" cx="1298" cy="1524.8"/>
<circle class="cg" cx="729.1" cy="1538.3"/>
<circle class="cp" cx="749.8" cy="1537.5"/>
<circle class="cp" cx="765.8" cy="1538.8"/>
<circle class="cp" cx="784.8" cy="1538.8"/>
<circle class="cp" cx="896.9" cy="1539.7"/>
<circle class="cg" cx="917" cy="1538.2"/>
<circle class="cg" cx="935.7" cy="1539.3"/>
<circle class="cp" cx="952.3" cy="1541.1"/>
<circle class="cg" cx="971.4" cy="1538"/>
<circle class="cg" cx="989.4" cy="1539.9"/>
<circle class="cp" cx="1010.7" cy="1539"/>
<circle class="cp" cx="1027.3" cy="1537.4"/>
<circle class="cm" cx="1047.4" cy="1539.6"/>
<circle class="cp" cx="1102.4" cy="1541.1"/>
<circle class="cg" cx="1160" cy="1537.5"/>
<circle class="cp" cx="1177.1" cy="1539"/>
<circle class="cp" cx="1194.6" cy="1537.6"/>
<circle class="cg" cx="1215.3" cy="1537.4"/>
<circle class="cp" cx="1233" cy="1541.1"/>
<circle class="cp" cx="1250" cy="1538.2"/>
<circle class="cg" cx="1270.4" cy="1539.4"/>
<circle class="cp" cx="1289.2" cy="1540.6"/>
<circle class="cg" cx="1305.9" cy="1538.6"/>
<circle class="cp" cx="739.1" cy="1553.7"/>
<circle class="cp" cx="760.1" cy="1556.7"/>
<circle class="cp" cx="778" cy="1553.6"/>
<circle class="cp" cx="797.1" cy="1556.5"/>
<circle class="cm" cx="888.6" cy="1556.5"/>
<circle class="cp" cx="924.8" cy="1554"/>
<circle class="cp" cx="943.4" cy="1553.7"/>
<circle class="cp" cx="982.7" cy="1556.3"/>
<circle class="cp" cx="1001.7" cy="1556.4"/>
<circle class="cp" cx="1037.7" cy="1555.3"/>
<circle class="cp" cx="1057.3" cy="1555.6"/>
<circle class="cp" cx="1093.9" cy="1557.4"/>
<circle class="cp" cx="1110.8" cy="1557.1"/>
<circle class="cg" cx="1148.1" cy="1554.5"/>
<circle class="cp" cx="1168.7" cy="1557.3"/>
<circle class="cp" cx="1204.2" cy="1557.1"/>
<circle class="cp" cx="1222.8" cy="1554.5"/>
<circle class="cp" cx="1243.7" cy="1556.1"/>
<circle class="cp" cx="1261.5" cy="1556.2"/>
<circle class="cp" cx="1281.2" cy="1555.4"/>
<circle class="cg" cx="1299.3" cy="1556.3"/>
<circle class="cp" cx="750.6" cy="1571.5"/>
<circle class="cp" cx="768.7" cy="1572"/>
<circle class="cg" cx="785.6" cy="1570.6"/>
<circle class="cp" cx="805.5" cy="1570"/>
<circle class="cp" cx="825.2" cy="1570.3"/>
<circle class="cg" cx="840.3" cy="1570.2"/>
<circle class="cp" cx="860.2" cy="1570.3"/>
<circle class="cp" cx="877.5" cy="1569.9"/>
<circle class="cg" cx="898.8" cy="1572.3"/>
<circle class="cg" cx="917.4" cy="1572.7"/>
<circle class="cp" cx="933.5" cy="1572.1"/>
<circle class="cp" cx="953.3" cy="1573"/>
<circle class="cg" cx="973.7" cy="1573.3"/>
<circle class="cp" cx="989.3" cy="1573.2"/>
<circle class="cg" cx="1011.4" cy="1570.2"/>
<circle class="cp" cx="1027" cy="1570.2"/>
<circle class="cg" cx="1044.9" cy="1573.1"/>
<circle class="cp" cx="1065.9" cy="1573"/>
<circle class="cp" cx="1101.7" cy="1570.1"/>
<circle class="cp" cx="1138.6" cy="1571"/>
<circle class="cp" cx="1158.1" cy="1569.8"/>
<circle class="cg" cx="1176" cy="1570.9"/>
<circle class="cp" cx="1196.5" cy="1571.2"/>
<circle class="cg" cx="1213.5" cy="1573.6"/>
<circle class="cp" cx="1232.8" cy="1573.1"/>
<circle class="cp" cx="1251.9" cy="1569.9"/>
<circle class="cp" cx="1269.7" cy="1571.5"/>
<circle class="cp" cx="1289.7" cy="1571.1"/>
<circle class="cp" cx="759.3" cy="1588.1"/>
<circle class="cg" cx="776" cy="1589.4"/>
<circle class="cp" cx="794.1" cy="1589.2"/>
<circle class="cp" cx="813" cy="1585.9"/>
<circle class="cp" cx="831.7" cy="1589"/>
<circle class="cp" cx="849.5" cy="1587.9"/>
<circle class="cg" cx="870.1" cy="1589.1"/>
<circle class="cp" cx="887.4" cy="1587.9"/>
<circle class="cg" cx="927.2" cy="1587"/>
<circle class="cp" cx="946.3" cy="1587"/>
<circle class="cp" cx="982.5" cy="1587.9"/>
<circle class="cp" cx="998.7" cy="1588.5"/>
<circle class="cp" cx="1038.7" cy="1588.7"/>
<circle class="cp" cx="1057.2" cy="1588.4"/>
<circle class="cg" cx="1092.9" cy="1587.5"/>
<circle class="cp" cx="1113.5" cy="1586.3"/>
<circle class="cg" cx="1128.6" cy="1586.7"/>
<circle class="cp" cx="1148.2" cy="1589.5"/>
<circle class="cp" cx="1167.7" cy="1587.4"/>
<circle class="cp" cx="1185.2" cy="1587.8"/>
<circle class="cp" cx="1205" cy="1588.9"/>
<circle class="cp" cx="1224.5" cy="1588.5"/>
<circle class="cp" cx="1241.5" cy="1587.2"/>
<circle class="cp" cx="1259.3" cy="1589.3"/>
<circle class="cp" cx="1279.9" cy="1588.9"/>
<circle class="cp" cx="766.5" cy="1603.9"/>
<circle class="cg" cx="787.5" cy="1604.4"/>
<circle class="cp" cx="803.5" cy="1603.9"/>
<circle class="cp" cx="825.1" cy="1603"/>
<circle class="cg" cx="841" cy="1603.3"/>
<circle class="cg" cx="880.8" cy="1602.7"/>
<circle class="cg" cx="896.6" cy="1603.1"/>
<circle class="cg" cx="915.9" cy="1604.2"/>
<circle class="cp" cx="933.8" cy="1603.4"/>
<circle class="cp" cx="952.6" cy="1606"/>
<circle class="cp" cx="973.3" cy="1602.5"/>
<circle class="cg" cx="992.8" cy="1602.5"/>
<circle class="cg" cx="1030.1" cy="1605.3"/>
<circle class="cp" cx="1047.7" cy="1603.8"/>
<circle class="cp" cx="1101" cy="1602.9"/>
<circle class="cg" cx="1158" cy="1605.3"/>
<circle class="cg" cx="1177.8" cy="1604.1"/>
<circle class="cp" cx="1196.1" cy="1603.9"/>
<circle class="cg" cx="1212.8" cy="1604.5"/>
<circle class="cp" cx="1232.4" cy="1605.1"/>
<circle class="cp" cx="1253" cy="1603.8"/>
<circle class="cp" cx="1270.3" cy="1605.1"/>
<circle class="cp" cx="776.8" cy="1619.2"/>
<circle class="cg" cx="796.6" cy="1621.8"/>
<circle class="cg" cx="815.4" cy="1621.1"/>
<circle class="cg" cx="834.3" cy="1621"/>
<circle class="cp" cx="869.9" cy="1619.5"/>
<circle class="cp" cx="889.2" cy="1618.7"/>
<circle class="cp" cx="927" cy="1621.1"/>
<circle class="cp" cx="945" cy="1619.3"/>
<circle class="cp" cx="981.5" cy="1620.8"/>
<circle class="cp" cx="999.9" cy="1621"/>
<circle class="cp" cx="1017.6" cy="1620.9"/>
<circle class="cp" cx="1038.6" cy="1619.8"/>
<circle class="cp" cx="1056.1" cy="1622.2"/>
<circle class="cp" cx="1093.5" cy="1618.9"/>
<circle class="cg" cx="1113" cy="1622"/>
<circle class="cp" cx="1147.5" cy="1620.6"/>
<circle class="cg" cx="1167.9" cy="1621.1"/>
<circle class="cp" cx="1205.5" cy="1621.6"/>
<circle class="cp" cx="1223.6" cy="1619.9"/>
<circle class="cg" cx="1243.9" cy="1619.1"/>
<circle class="cp" cx="1261.4" cy="1619.8"/>
<circle class="cp" cx="787.5" cy="1634.9"/>
<circle class="cg" cx="806.9" cy="1635.9"/>
<circle class="cg" cx="821.8" cy="1635.6"/>
<circle class="cp" cx="841.8" cy="1634.5"/>
<circle class="cp" cx="879.1" cy="1637.3"/>
<circle class="cg" cx="897.4" cy="1635.5"/>
<circle class="cp" cx="915.5" cy="1637.4"/>
<circle class="cp" cx="937" cy="1636.6"/>
<circle class="cp" cx="952.7" cy="1637.7"/>
<circle class="cp" cx="972" cy="1635.3"/>
<circle class="cg" cx="989.5" cy="1637.6"/>
<circle class="cp" cx="1010.1" cy="1636.3"/>
<circle class="cg" cx="1028.4" cy="1635.4"/>
<circle class="cg" cx="1048.7" cy="1635.9"/>
<circle class="cp" cx="1085.3" cy="1636.3"/>
<circle class="cg" cx="1101.8" cy="1636.7"/>
<circle class="cp" cx="1139.2" cy="1637.9"/>
<circle class="cg" cx="1157.5" cy="1636"/>
<circle class="cg" cx="1176" cy="1636.2"/>
<circle class="cp" cx="1194.3" cy="1634.5"/>
<circle class="cp" cx="1215.1" cy="1635.6"/>
<circle class="cg" cx="1231.8" cy="1635.7"/>
<circle class="cp" cx="1251.3" cy="1636.2"/>
<circle class="cg" cx="796.2" cy="1653.3"/>
<circle class="cg" cx="813.7" cy="1654.4"/>
<circle class="cg" cx="834.3" cy="1650.9"/>
<circle class="cg" cx="853.1" cy="1653.8"/>
<circle class="cp" cx="868.7" cy="1654"/>
<circle class="cp" cx="889.2" cy="1650.7"/>
<circle class="cp" cx="927.7" cy="1653.3"/>
<circle class="cg" cx="943.5" cy="1651"/>
<circle class="cp" cx="980.6" cy="1653.7"/>
<circle class="cp" cx="999.7" cy="1651.3"/>
<circle class="cg" cx="1020.1" cy="1651.3"/>
<circle class="cp" cx="1039.1" cy="1653.1"/>
<circle class="cg" cx="1057.2" cy="1653.3"/>
<circle class="cp" cx="1075.9" cy="1654"/>
<circle class="cg" cx="1092.1" cy="1653.4"/>
<circle class="cg" cx="1112" cy="1653.6"/>
<circle class="cp" cx="1150.6" cy="1652.9"/>
<circle class="cp" cx="1166.8" cy="1651.6"/>
<circle class="cm" cx="1204.9" cy="1650.9"/>
<circle class="cp" cx="1223.4" cy="1651.2"/>
<circle class="cp" cx="1242.1" cy="1652.6"/>
<circle class="cp" cx="805.2" cy="1670.3"/>
<circle class="cp" cx="821.6" cy="1670.2"/>
<circle class="cp" cx="842.1" cy="1669.1"/>
<circle class="cp" cx="880.8" cy="1668.3"/>
<circle class="cp" cx="897.7" cy="1670.7"/>
<circle class="cp" cx="914.9" cy="1669.4"/>
<circle class="cp" cx="935.7" cy="1666.9"/>
<circle class="cg" cx="954.2" cy="1669.6"/>
<circle class="cg" cx="974.1" cy="1668.1"/>
<circle class="cp" cx="992.9" cy="1668.9"/>
<circle class="cp" cx="1029.8" cy="1667"/>
<circle class="cp" cx="1047.7" cy="1669.3"/>
<circle class="cp" cx="1083.5" cy="1668.7"/>
<circle class="cg" cx="1102.7" cy="1669.9"/>
<circle class="cp" cx="1158.1" cy="1669"/>
<circle class="cp" cx="1178.3" cy="1668"/>
<circle class="cg" cx="1196.9" cy="1668.4"/>
<circle class="cp" cx="1214.2" cy="1667.9"/>
<circle class="cp" cx="1232.8" cy="1670.7"/>
<circle class="cp" cx="833.5" cy="1686.2"/>
<circle class="cg" cx="869.4" cy="1684.2"/>
<circle class="cp" cx="889" cy="1685.5"/>
<circle class="cg" cx="905.5" cy="1685.9"/>
<circle class="cp" cx="927.4" cy="1685.2"/>
<circle class="cg" cx="942.7" cy="1684.2"/>
<circle class="cp" cx="980.5" cy="1686.7"/>
<circle class="cp" cx="1000.7" cy="1685.6"/>
<circle class="cg" cx="1020.5" cy="1685.5"/>
<circle class="cg" cx="1038" cy="1685.5"/>
<circle class="cp" cx="1056.9" cy="1685.4"/>
<circle class="cp" cx="1092.2" cy="1685.7"/>
<circle class="cp" cx="1111.7" cy="1686.1"/>
<circle class="cp" cx="1147.8" cy="1683.2"/>
<circle class="cp" cx="1168.8" cy="1686.7"/>
<circle class="cp" cx="1204.4" cy="1686.3"/>
<circle class="cp" cx="843.3" cy="1701.4"/>
<circle class="cg" cx="878.6" cy="1700.9"/>
<circle class="cp" cx="897.3" cy="1700.9"/>
<circle class="cp" cx="917.2" cy="1702.9"/>
<circle class="cp" cx="933.4" cy="1701.5"/>
<circle class="cp" cx="952" cy="1699.7"/>
<circle class="cp" cx="973.6" cy="1701.5"/>
<circle class="cp" cx="992.7" cy="1701"/>
<circle class="cp" cx="1027.7" cy="1701.6"/>
<circle class="cp" cx="1048.6" cy="1703.1"/>
<circle class="cm" cx="1101" cy="1701.8"/>
<circle class="cg" cx="1156.5" cy="1699.2"/>
<circle class="cp" cx="1177.7" cy="1699.7"/>
<circle class="cg" cx="1197.5" cy="1699.5"/>
<circle class="cm" cx="871.6" cy="1715.9"/>
<circle class="cp" cx="886.8" cy="1718.2"/>
<circle class="cp" cx="906.3" cy="1718.3"/>
<circle class="cp" cx="924.6" cy="1715.6"/>
<circle class="cp" cx="945.6" cy="1718.2"/>
<circle class="cp" cx="964.5" cy="1718.3"/>
<circle class="cp" cx="980" cy="1717.9"/>
<circle class="cp" cx="1001.1" cy="1717.2"/>
<circle class="cg" cx="1020.6" cy="1716.4"/>
<circle class="cg" cx="1039.4" cy="1718.2"/>
<circle class="cp" cx="1054.1" cy="1715.4"/>
<circle class="cg" cx="1075.3" cy="1718.6"/>
<circle class="cg" cx="1091.6" cy="1716.6"/>
<circle class="cp" cx="1112.8" cy="1716"/>
<circle class="cp" cx="1131.9" cy="1717.3"/>
<circle class="cp" cx="1147.3" cy="1716.8"/>
<circle class="cp" cx="1168" cy="1717.1"/>
<circle class="cg" cx="898.7" cy="1732.1"/>
<circle class="cg" cx="917.8" cy="1733"/>
<circle class="cp" cx="935.8" cy="1734.1"/>
<circle class="cp" cx="953.5" cy="1733.1"/>
<circle class="cp" cx="973.5" cy="1735.3"/>
<circle class="cg" cx="992.1" cy="1733.8"/>
<circle class="cg" cx="1008.8" cy="1731.8"/>
<circle class="cp" cx="1030.1" cy="1734.4"/>
<circle class="cg" cx="1048.1" cy="1732.9"/>
<circle class="cg" cx="1065.8" cy="1735.5"/>
<circle class="cg" cx="1085.3" cy="1734"/>
<circle class="cp" cx="1101.8" cy="1733.3"/>
<circle class="cp" cx="1122.8" cy="1733.1"/>
<circle class="cg" cx="1140.5" cy="1734"/>
<circle class="cp" cx="946.1" cy="1751"/>
<circle class="cp" cx="962.2" cy="1747.7"/>
<circle class="cp" cx="980.8" cy="1749.4"/>
<circle class="cp" cx="1000.6" cy="1751"/>
<circle class="cg" cx="1020.4" cy="1747.9"/>
<circle class="cp" cx="1038.8" cy="1751"/>
<circle class="cp" cx="1057.6" cy="1750"/>
<circle class="cp" cx="1073.8" cy="1751.1"/>
<circle class="cp" cx="1094.5" cy="1750.5"/>
<path d="M939.3,1208 C933.7,1208 902.5,1224 888.3,1235.7 C874.1,1247.5 845.1,1278 832.8,1295.9 C820.4,1313.8 802.8,1350.2 795.7,1370 C788.6,1389.8 780.8,1424.3 779.5,1444.1 C778.3,1463.8 781.2,1502.1 786.5,1518.1 C791.7,1534.2 807.2,1558 818.9,1564.4 C830.6,1570.9 864,1570.5 874.4,1566.8 C884.9,1563.1 896.4,1553 897.6,1536.7 C898.8,1520.3 885.2,1468.8 883.7,1444.1 C882.2,1419.4 883.5,1373.1 886,1351.5 C888.5,1329.9 896.4,1297.5 902.2,1282 C908.1,1266.6 925.1,1245.6 930,1235.7 C934.9,1225.9 944.8,1208 939.3,1208Z" fill="#2a78bd"/>
<clipPath id="faceClip"><path d="M939.3,1208 C933.7,1208 902.5,1224 888.3,1235.7 C874.1,1247.5 845.1,1278 832.8,1295.9 C820.4,1313.8 802.8,1350.2 795.7,1370 C788.6,1389.8 780.8,1424.3 779.5,1444.1 C778.3,1463.8 781.2,1502.1 786.5,1518.1 C791.7,1534.2 807.2,1558 818.9,1564.4 C830.6,1570.9 864,1570.5 874.4,1566.8 C884.9,1563.1 896.4,1553 897.6,1536.7 C898.8,1520.3 885.2,1468.8 883.7,1444.1 C882.2,1419.4 883.5,1373.1 886,1351.5 C888.5,1329.9 896.4,1297.5 902.2,1282 C908.1,1266.6 925.1,1245.6 930,1235.7 C934.9,1225.9 944.8,1208 939.3,1208Z"/></clipPath><g clip-path="url(#faceClip)">
<circle class="cg" cx="916.6" cy="1227.6"/>
<circle class="cg" cx="866.8" cy="1263.3"/>
<circle class="cp" cx="885.4" cy="1262"/>
<circle class="cp" cx="904" cy="1261.4"/>
<circle class="cp" cx="842.2" cy="1295.7"/>
<circle class="cp" cx="860.8" cy="1296"/>
<circle class="cp" cx="879.4" cy="1298.4"/>
<circle class="cp" cx="898" cy="1295.6"/>
<circle class="cp" cx="829.6" cy="1331.1"/>
<circle class="cp" cx="848.2" cy="1330.5"/>
<circle class="cg" cx="866.8" cy="1333.1"/>
<circle class="cg" cx="885.4" cy="1331.8"/>
<circle class="cp" cx="805" cy="1367.5"/>
<circle class="cp" cx="823.6" cy="1366.8"/>
<circle class="cp" cx="842.2" cy="1366.8"/>
<circle class="cp" cx="860.8" cy="1368"/>
<circle class="cg" cx="879.4" cy="1366"/>
<circle class="cp" cx="792.4" cy="1401.8"/>
<circle class="cp" cx="811" cy="1401.5"/>
<circle class="cp" cx="829.6" cy="1400.8"/>
<circle class="cp" cx="848.2" cy="1401.9"/>
<circle class="cm" cx="866.8" cy="1403.2"/>
<circle class="cg" cx="786.4" cy="1438.4"/>
<circle class="cg" cx="805" cy="1437.4"/>
<circle class="cg" cx="823.6" cy="1435.7"/>
<circle class="cp" cx="842.2" cy="1437.3"/>
<circle class="cp" cx="860.8" cy="1437.2"/>
<circle class="cg" cx="879.4" cy="1436.9"/>
<circle class="cp" cx="792.4" cy="1471.4"/>
<circle class="cp" cx="811" cy="1473.2"/>
<circle class="cp" cx="829.6" cy="1471.1"/>
<circle class="cp" cx="848.2" cy="1471.8"/>
<circle class="cp" cx="866.8" cy="1472.5"/>
<circle class="cp" cx="885.4" cy="1472.2"/>
<circle class="cp" cx="786.4" cy="1507.1"/>
<circle class="cp" cx="805" cy="1506.7"/>
<circle class="cp" cx="823.6" cy="1506"/>
<circle class="cg" cx="842.2" cy="1507.1"/>
<circle class="cp" cx="860.8" cy="1508.1"/>
<circle class="cp" cx="879.4" cy="1505.8"/>
<circle class="cp" cx="811" cy="1541.3"/>
<circle class="cp" cx="829.6" cy="1542.2"/>
<circle class="cp" cx="848.2" cy="1542.2"/>
<circle class="cp" cx="866.8" cy="1542"/>
<circle class="cp" cx="885.4" cy="1540.7"/>
</g>
<path d="M858,1333.5 q-3.9,-6.9 -5.9,13.8 t4.3,-7.5 M1152.3,1540.2 q4.8,-1.4 6.4,12.3 t-13.7,6.6 M1282.7,1528.4 q-7.6,-5.5 18.3,-5.5 t-9.9,14 M800.1,1276.4 q-2.5,-0 18.2,0.3 t17.6,-11.2 M1077.8,1352 q0.7,-12 -13,17.8 t-1.6,11.1 M1018.1,1636.6 q-9.6,1.3 14.5,0.6 t-4.4,15.4 M1211.9,1306 q-10.2,3 -2.2,18.3 t-5,5.8 M894.4,1322 q0.5,4.2 16.3,-0.1 t-4.9,17.1 M1276.5,1554.3 q4.4,1.4 -2.1,10 t14.1,8.2 M1018.9,1401.6 q-4.2,-8.7 18.1,15.7 t-12.8,3.2 M961.4,1427.9 q-2.6,5.9 5.7,-8.8 t9.4,-7.5 M831.4,1404.4 q11.5,3.6 12.2,7.1 t-4.3,16.7 M956.4,1215.9 q-5.3,-8.1 3,13 t10.6,-5.5 M1156.9,1624.4 q9.1,-8.1 9.5,-13.2 t-6.8,-16.1 M964.1,1635.9 q11.2,11.1 -12.5,-7.6 t16,-10.9 M933.2,1637.7 q-9.4,-5.8 -4.2,-4.6 t16.7,-8.4 M1100.8,1732.9 q-1.2,8.1 5.5,11.1 t-6.7,-12.5 M1028.2,1251.9 q1.4,4.1 10.1,-9 t-4.9,15 M860.2,1428.4 q3.1,-5.8 10.9,-18.3 t11.8,2.4 M842.2,1690 q-5.6,-6.2 -17.2,1.9 t9.1,6.4 M788.2,1598.9 q-9.3,-4.6 5.8,18.7 t4.8,6.9 M1048.1,1271.3 q10.6,5.8 -6.3,-4.3 t11,-5.4 M1129.4,1716.3 q0.8,0.5 6.8,16.1 t-13.2,-5.8 M1196,1535.9 q0.1,8.4 6.7,3.1 t-3.5,2.7 M977.8,1731.4 q6.9,8.1 -14,6.9 t9.1,0 M1248,1287.9 q5.8,7.7 6,15.1 t-13.3,7.3 M951.6,1232.4 q-5.4,-10.4 4.1,13 t-8.2,-10.3 M1034.1,1548.9 q4.2,11.4 12.1,-5.6 t7.2,-15.4 M1109.6,1312.3 q-11.9,3.1 -14.4,-9 t-15.9,-2 M764.6,1366.6 q-11,7.9 -15.6,-11 t4.7,-5.8 M908.4,1656.1 q-6.8,7 -11.6,13.6 t11.1,1.3 M1279.5,1508.5 q-11.3,0.1 -3,-17.5 t4.7,8.1 M855.1,1361.2 q0.3,2.1 -10.9,14.7 t17.8,11 M1186.6,1416.5 q11.7,-10.3 -0.9,-14.7 t-1.7,6.6 M966.6,1262 q-3.8,-7.4 -3.9,-8.7 t-11,8.5 M820.8,1437.7 q-7.3,4.9 -12.1,-9.4 t2.2,7.2 M1275.4,1414.1 q10.8,10.1 8.9,8.8 t-15.7,-10.6 M1297.6,1480.8 q5.3,3.1 -9.4,-5.8 t-12.1,4.8 M1185.1,1449.1 q-10.9,-7.8 -5.8,16 t11,-1.6 M1097.7,1516.8 q-8.3,6.7 -1.1,19.6 t14.8,10.6 M749.3,1498.6 q-8.9,-9.4 2.5,0.3 t-10.5,-8.9 M1303.3,1496.1 q5,10.7 19.2,-2.5 t8.4,-4.2 M1123.6,1202.6 q-8.8,-11.7 -11.4,3.4 t-4.4,-17.7 M1148,1224.5 q-0.9,-11 15.6,1.4 t-15.4,-6.4 M818.3,1258.4 q-0.4,3.3 -11.8,-10.3 t14.6,-4.2 M1202.7,1598.7 q-9,-7.2 -1.7,3.4 t4.9,7.5 M946.4,1487 q5.4,-10.7 -1.2,-4 t6.2,7.7 M1034.5,1700 q4.6,-0.7 -14.3,16.4 t3.6,-15.7 M1040.4,1756.1 q-6.5,-2.6 11.5,13 t4.8,8.7 M1108.5,1480 q11.4,7.3 -18.5,-18.1 t-9.3,15.5 M1065.8,1700.1 q10.3,3.3 16.8,-9.5 t-12.5,-17.3 M1023.3,1361.2 q11.4,5 -12.5,12.3 t-12.1,0.4 M1229.1,1622.6 q9.4,10 -19.9,14.1 t2,11.6 M782.2,1454.3 q2.3,7.2 -16.9,-17.8 t1.6,-7.5 M998,1473.9 q5.9,-11.4 13.2,12.5 t-1.5,-13.6 M938.6,1347.2 q-1.7,-9.4 19.1,1.8 t-5.3,-14.6 M984.5,1182.8 q8.4,-9.6 -5.3,-7.9 t9.4,-12.7 M785.5,1273.5 q6.5,-11.8 -17,-15.5 t6.9,3.6 M817.5,1432.4 q-2.2,2.7 5.9,16.7 t8.4,10.7 M1254,1314.7 q5.2,-11.3 7.2,14 t-2.5,13.6 M1143.7,1722.2 q-1.4,5 -9.9,-8 t-5.5,-6.3 M1184.8,1570.2 q11.5,3.7 17.3,10.5 t12.1,17.8 M1021.7,1300.5 q-6,-2.1 -19.2,-10.8 t13.9,15.2 M893.7,1690.4 q6.6,9.4 11.8,1.3 t-14.2,11.7 M926.2,1677.4 q-3.2,0.9 18.6,-13.6 t1.1,5.4 M736.1,1388.4 q-2.2,9.9 7.6,18.7 t-14.8,-10.4 M952.3,1736.6 q-11.7,-5.8 8.6,19.6 t-11.7,-2.2 M922.4,1227.4 q5.9,6.1 -10.1,-9.7 t-17,6.9 M1057.8,1606.3 q11.1,3.4 3.6,6.2 t3.5,7 M993.7,1529.8 q-10.4,-11.7 -5.5,-14.3 t-13.9,-0.2 M1263.9,1410.6 q-5.4,6.5 -12.9,-16 t-7.1,-3.3 M944.6,1271.6 q5.5,-9.7 17.3,-6.3 t12,-16.9 M1087,1332.1 q8.5,7.3 6.8,-8.9 t-17.6,-11.2 M1117.9,1390.7 q3.8,2.1 6.4,-12.8 t-12.8,-14.5 M1204.1,1437.8 q3.7,1.7 -11.1,-17.4 t-17.5,12.7 M1221,1673.3 q-3.3,5.3 -14.5,11.5 t-8.9,-4.8 M919.6,1443.5 q-6,7.1 -8.6,-4.8 t9.5,-9.9 M1067.6,1590.2 q-2.8,-3.2 5.7,-1.1 t13.3,-16.2 M876.9,1222.4 q-6.4,-11.3 -2.5,-15.4 t-1.4,7.6 M1104.9,1515.4 q-0.5,-7.8 -10.8,-2.4 t-13.7,-15.6 M886.5,1615.8 q10.5,1.3 -17.1,-11.1 t8.8,2.3 M1221.3,1243.1 q8.6,-9.4 17.7,1 t-9.4,-11.9 M1110.5,1353.8 q-10,-5.6 17,-1.6 t8.3,-15.3 M856.7,1507.3 q-7.1,3.9 -5.6,-15.2 t17.4,-0.7 M1032.4,1486.4 q3.7,0.4 -19,-1.2 t8.7,1.3 M1040.2,1669.5 q2.5,3.6 -14.2,12.1 t16,8.7 M1132.9,1315.5 q9.7,-7.6 -10.9,3.9 t14.5,-15 M1030.7,1513.8 q-1.5,-8.6 -12.3,10 t3,15.8 M816.6,1601.2 q-11.7,10.8 -10.7,-0.9 t0.4,16.1 M719.7,1472.9 q2.9,-6.8 13.4,-11.9 t18,-1.6 M1062.8,1749.7 q-4.3,-2.2 -6.3,6.7 t-17.2,-4.5 M1162.7,1691 q-12,2.6 -9.7,-1.8 t2.2,7.6 M1114.7,1570.3 q-9.1,11 -14,-14.5 t0.8,2.9 M1073.3,1411 q-6.4,-8 3.4,-1.9 t-3.3,14 M872,1220.8 q11,-5.5 17.7,-3.7 t-16.1,14.9 M1050.6,1482.2 q-5,-5.1 18.7,14.8 t-2.9,1.1 M1176.2,1238.2 q3.7,0.3 -15.3,-10.3 t5.7,3.1 M1109,1187.3 q11.1,-7.4 -17,15.9 t2.5,-11.5 M964.9,1315.8 q-6.3,-3.2 1,7.1 t-15.4,8.7 M872.2,1312.6 q4.1,7.2 -19.6,-1 t6.4,7.5 M942.3,1355.8 q11,6.9 -10.7,-2.8 t16.5,-10.5 M770.8,1617.5 q9.6,-6.4 9.4,-5.6 t5.9,9.6 M1117.7,1560 q-6.8,-5.6 -18.6,-14.6 t-3.4,-2.9 M1221.7,1565.8 q10.6,1.8 -5.8,8.2 t-2.3,-11.7 M979.3,1462.6 q4.2,-8.1 -5.2,18.5 t9.6,12.1 M868.7,1271.3 q4.9,11.2 -12.1,10.6 t-7.2,-8.8 M1120.4,1247.9 q8.4,9 3.6,-12.1 t-17.5,1.3 M995,1302.8 q-10.3,-11.9 -13.1,7.8 t-17.9,-9.7 M994.9,1710.6 q11.7,-11.5 -15.4,17.4 t16.9,-12.6 M907.9,1644.9 q-4.3,-2 -0.8,-9.7 t-16,-15 M1066.5,1535.5 q3,4.7 -9.5,11.7 t8.2,-5.7 M888.6,1464.7 q10.3,1.4 -17.9,-13.8 t6.9,-4.1 M989.3,1317 q7.1,7.2 -16.2,3.4 t-11.1,7.5 M1108.1,1205.6 q-6.5,-9.8 6.5,2.6 t-13,-11.1 M933.2,1409 q3.2,-6.2 -9.7,-3.1 t1.2,8.1 M1270.2,1507.4 q-6.7,-5 5.6,7.6 t4.1,14.5 M1066.2,1619 q3.9,-5.7 -13.7,-10.9 t9.8,11.8 M957.1,1170 q7.1,-4.6 -7.4,8.8 t-16,3.9 M1075.5,1493.4 q0.3,-8.4 17.3,15.1 t-1.4,-10.9 M1175.5,1604.2 q0.5,-3.3 8.7,1.2 t9.9,-14.2 M1188.3,1537.8 q-0.4,-5.9 6.7,-11.1 t-6.5,-0.8 M957.1,1201.3 q-3.1,-1.3 17.1,17.4 t4.3,-14.2 M788.1,1523.9 q-5.3,-11.1 19.2,16.4 t-13.4,-1.2 M898.4,1345.7 q-10.4,6 10.8,-2.5 t-14.9,-3.8 M1264.3,1622.5 q-10.8,-5.1 10.7,-14.6 t-14.2,-15.5 M1131.9,1646.1 q8,-7.9 -13.1,10.6 t-2.7,-5.8 M1125,1561.7 q11.3,-9.2 -9.6,9.6 t14.1,14.6 M729.1,1508.1 q2.5,-5.1 -1.4,8.6 t8.4,-13.3 M1121.1,1734.2 q-9.4,7.5 -6.4,-10.1 t-8.8,-1.1 M1134.7,1451.1 q8.5,-4.3 -13.1,9.8 t-5.7,-11.2 M781.3,1591.8 q8.7,1.8 -19.6,10.5 t3.8,14.4 M1183.3,1406.9 q8.4,7.7 -9.4,-5.4 t-4.5,-5.3 M946.9,1527.2 q-6.5,9.8 -3.6,5.4 t13.9,9.2 M1029.2,1746.3 q7.3,11.8 9.1,10.2 t11.3,-8.9 M915.6,1303.9 q8.2,-8.8 1.6,-6.5 t11.5,-5.6 M1173.1,1227.8 q9.1,-8.7 17.5,9.8 t6.4,5.5 M1287,1541.4 q1.1,-1.1 -6.4,11.3 t10.2,13.3 M1058.2,1629.1 q-6,-9.6 -6.9,-19 t10.7,-9.8 M1089.7,1491.6 q5.8,-7.2 -1.5,-3.9 t10.9,16.3 M931.1,1680.5 q9.5,-0.7 16,9.3 t-6.8,13.5 M931.3,1414.5 q2.1,7.9 0.7,-0.6 t-3,13.7 M949.6,1339.7 q-3.3,-3.3 18.3,7.8 t-13.5,14.9 M1244.7,1508.3 q-1.6,5.2 -2.8,-16.3 t0.9,11.5 M1062.4,1283.7 q-6.7,5.9 12.1,-11.2 t13.8,17.7 M849.4,1533.3 q5,10.3 -11.9,-7.9 t-6.2,8.4 M1105,1663.2 q0,4 -14.3,18.3 t18,2.2 M1055.1,1334.3 q9.8,1.2 10.4,14.7 t-5,15.3 M1031.2,1502.4 q0.1,9.6 16,18.2 t0.4,15.6 M913,1416 q3.1,7.3 -3,4.1 t-8.7,-8.1 M829.9,1561.5 q-0.8,-9.8 -19.8,-6.4 t7.8,8.9 M1031.4,1609.6 q0.4,-7.8 4.1,16.2 t-10.7,3.1 M971.5,1202 q5.1,5.1 -9.1,13.5 t15.3,-16.1 M1207,1389.2 q-9.9,-10.3 11.9,7.1 t-12.9,-1.4 M825.6,1228 q-3.9,6.4 -10.2,-12 t-12.2,-3.2 M897,1346 q-8.1,-6.8 -16.6,-12.3 t-6.6,0.2 M1103.4,1648.5 q-1.4,11.4 -0.6,17.8 t-1,-10.9 M923.2,1395.5 q-7.9,-10.2 8.1,18.7 t-3.5,-5.3 M859.9,1538.9 q4.6,-2.6 -13.9,14.6 t2.6,-17.8 M1169.3,1249.8 q-3.5,3.1 16.8,-3.9 t-2.4,-7.3 M788.1,1376.2 q5.6,10.8 -14.2,-5.4 t12.7,10.5 M810,1325.3 q-3.8,10.7 2,-3.9 t-11.4,-13.8 M1234.3,1296.4 q-11.4,-4.2 -0.8,-0.2 t-4.9,14.2 M890.2,1635.7 q10.3,3.3 -0.9,-6.7 t-4.1,3.9 M1053.4,1308.3 q-3.1,-2.7 -5.5,16.5 t1.4,-8.1 M884.1,1695 q-8.2,4.6 -19.1,-12.3 t-15.9,11 M1105.7,1572.5 q-10.6,-5.7 9.3,8.8 t14.8,16.1 M744.8,1367.2 q-9.8,10.2 -2.6,-12.3 t8.9,12.9 M949.8,1518.4 q9,6.1 3.9,19.1 t-16.6,-16 M1050.6,1489.3 q5,3.1 -15.5,-13.5 t-11.5,3.9 M880.4,1196.2 q-3.3,11.5 -2.6,-4.4 t-8.9,-9.6 " fill="none" stroke="#5a1f8a" stroke-width="2.2" stroke-linecap="round" opacity="0.85"/>
<path d="M1271.5,1443.2 q-11.1,9.2 -4.8,-14.5 t18.4,2.5 M1056.4,1616.7 q5.8,-2.1 17.1,5.3 t14.9,2.5 M1149.4,1584.8 q6.6,12.5 9.8,-20.1 t4.2,-16 M1138.4,1264.9 q-10.8,-13.4 -17.1,13.2 t-12.6,2.2 M1052.2,1446.9 q-4.4,-9.8 0.1,16.4 t12,-18.6 M1181.5,1291.4 q-11.9,-4.8 -12.5,17.3 t3.6,-18.3 M997.6,1494.9 q-1.1,13.6 -20,-15.6 t6.8,-9.1 M776.3,1360.8 q10.4,7.7 5.9,5.9 t-5.5,-8.7 M902.6,1325.6 q1.4,-2.6 -19.3,-7.2 t-7.1,19.5 M828.8,1515.7 q1.9,-5.5 -14.6,-19.1 t-7.9,-7.7 M760.1,1314.7 q-4,7.7 -3.2,16.2 t-17.3,-0.6 M911.4,1536.6 q2.9,10.2 6.5,-13.3 t9.4,18.5 M1187.9,1290 q11.8,-8.1 -7.6,11 t6,-3.8 M895.7,1370.9 q-1,-13.6 18.7,2.8 t19.5,-17.8 M1094.8,1279.7 q1.1,2.5 2.4,6.9 t4.1,-6.8 M868.7,1503.6 q0.7,12.3 -16.2,-21.6 t-1,6.2 M1215.1,1535.9 q1.5,-8.9 19.3,-5.9 t-14,-12.9 M904.4,1326.1 q8.4,-1.1 -7.8,17.8 t-15.7,9.3 M1240.9,1378 q-7.7,-6.9 -10.5,-2.9 t-10.7,-11.9 M1123.9,1345.3 q7,9 -9.6,-7.4 t-0.6,15.6 M850.9,1660.2 q10.2,-8.9 16,21.8 t-8.1,-19 M982.3,1376.4 q-4.5,11.7 9.5,16.8 t19.2,-18.7 M1313.1,1495 q-5.1,10.6 -16.7,-0.6 t-14.6,-2.9 M1172.6,1371.9 q-8,13.1 16.9,10.2 t-9.1,-12.9 M927.8,1235.3 q1.2,1.4 8.4,21.2 t15,8.7 M1040.6,1457.8 q3,11.9 -10.8,4.9 t-4.9,-10.4 M885.1,1282.6 q-5.2,13.2 -22,10.8 t14.1,0.4 M789,1419.7 q5,-5 5.7,1.9 t-11.1,4.5 M1213.4,1362.5 q0.7,0.8 13.8,-11.5 t-13.1,12.9 M1062.1,1362.9 q-9.7,-7 -17.5,-6.3 t12.1,0.9 M1025.4,1342.9 q5,-3.7 0.9,-11.5 t-5.2,-6.4 M953.3,1588.9 q9.4,-11.4 6,15.8 t-11.9,-3.1 M818.3,1589.1 q8.7,-4.1 -5,3.5 t17,-12.3 M811.9,1424.1 q11.2,7.2 -20.9,4.1 t-1.5,-1.5 M896.1,1233.2 q-2.8,-12.9 7.9,2.4 t10.8,10.8 M1250.2,1541.2 q5.9,-0.5 -19.6,8.4 t-3.3,3.4 M995.5,1608.7 q-5.2,-6.9 15.8,2.5 t0.4,-3.2 M841.8,1416.2 q-1,-0.3 3.7,-5.9 t12.1,-12 M979.8,1720.8 q-5.8,5.9 13.3,4.1 t-1.8,17.4 M915,1386.1 q11.8,1.7 13.2,-0.1 t7,7 M1081,1174.3 q-2.4,4.4 -10.7,17.9 t7.4,-13.8 M910.5,1414.6 q11.5,-4.9 15,-15.3 t12,19.2 M992.4,1264.6 q5,-10.8 14.5,-16.6 t16.9,19.8 M743.5,1484.5 q2.7,1.1 -18.1,-15.9 t-9.2,15.7 M982.1,1402.5 q-4.7,-1.4 -11.1,10.7 t-12.8,11.5 M1227.6,1502.9 q-11.3,4.1 -16.2,3.4 t-5.9,-5 M1073.1,1531.5 q10.6,-10.7 -0.2,1.6 t-15.3,-1.3 M1036.7,1735.4 q0.1,10.9 -21.3,19.5 t-0.5,11.6 M859.1,1439.7 q10.9,-11.6 3.5,-11.7 t3.8,11.4 M1087.8,1298 q8.7,-1.1 18.5,-21.5 t17.6,-3.5 M1063.6,1590.2 q-4.7,13.3 21.9,12.8 t-0.8,-0.1 M1229.9,1596.3 q-4.2,-9.5 20.5,7.6 t9.8,-14.6 M1139,1223.1 q10.4,-5.6 20.3,1.4 t17.8,-15.4 M735.5,1471.2 q5.2,5.9 -4.8,12.5 t11.7,7.3 M1155.8,1230.9 q-13.9,-0.3 -21.3,-17.1 t12.5,-3.3 " fill="none" stroke="#e8202a" stroke-width="2.4" stroke-linecap="round"/>
<path d="M951.4,1502.1 q-1.7,10.2 2.2,9.4 t10.3,-15.4 M1036.2,1349.2 q7.7,-12.4 -11.6,-5.6 t-19.4,3.8 M1260.4,1320.3 q-9.3,6.9 -7,11.6 t7.2,13 M764.6,1377.4 q-10.8,11.9 7.7,-10.8 t-12.3,-2.1 M957.6,1697.1 q-3.3,-10 16.5,1.7 t7.6,12.3 M1130.2,1703.4 q5,-3 -1.1,-15 t13.8,-4.3 M1105.5,1614.6 q-0.9,2.2 -4.9,-6.4 t-19.8,3.2 M988.2,1666.3 q-6.7,1.9 1.2,20.1 t19.7,-18.6 M1097.1,1191 q12.3,5.1 -8.6,11.6 t9.6,0.4 M839.7,1479 q-7.2,-7.4 -6.6,-16 t-19.7,14.8 M986.7,1239.3 q12.2,-4.5 18.5,3.7 t-16.8,-12.9 M1145,1365.4 q-6.8,-13.4 -14.8,-10.2 t8.2,-11.3 M951.5,1408.3 q8.7,10.5 -7,-16 t-12.5,1.5 M944.3,1301.9 q-12.4,-2.4 -20,5.6 t-6.6,-0.2 M827.8,1291.7 q-4.8,-11.4 -15.1,-15.7 t10.7,-16.4 M1010.5,1307 q5.9,7.4 12.1,-8.4 t10.9,19.1 M1046.1,1280.8 q13.7,-7.6 11.3,-18 t-18.9,-14.6 M997,1173 q-9.5,-13.2 12.2,-11.3 t19.3,-0 M1238.3,1553.6 q-2.7,10.2 -19.4,2.8 t-3.6,16.8 M1032.7,1219.7 q-5.6,13.8 -12.5,3.1 t-13.7,14.5 M1148.8,1667.1 q2.7,-1.3 3.5,16.8 t-11.6,15.3 M1243.6,1647.6 q-13.7,11.5 -15.4,10.4 t-16.1,-13.3 M1044.6,1721.8 q5.3,-12.9 0.2,-11.8 t-2.8,-15.8 M1125.4,1680.4 q-9.9,6.7 0,-17.1 t-5.9,-0.1 M1011.8,1535.8 q-12.8,0.2 -4,2.5 t-5.5,-19.6 M883.5,1557.4 q-2.3,13.2 -5,-5 t-3.6,-14.3 M1051.3,1554.2 q9.6,8 18,-19.8 t7.8,-7 M770.5,1295.3 q-7.4,3.6 10.7,-5.3 t8.5,-4.3 M992.4,1740.6 q-0.7,6.2 1,-1 t-11.2,-14.3 M788,1516.8 q9.2,11 16.2,-20.1 t-4.7,13.3 M934.5,1483.8 q-2.9,13.9 8.6,-2.2 t-0.9,11.9 M989.9,1485 q-8.4,2 -19.5,-14.1 t8.7,-9 M1080.5,1232.1 q-3.6,-12.8 -2.5,-5.8 t8.5,-8.2 M1266.2,1413.1 q-3.6,4.6 -7.5,-18.9 t10.2,-4.8 M1121.4,1295.8 q-0.7,10.9 -2.6,-0.4 t0.5,13 M1122.1,1552.6 q-11.8,8.9 -17.5,-18.1 t10.1,2.6 M1288.1,1454.8 q10.4,-9.9 -7.3,0.8 t-19.8,19.5 M1174.9,1509.9 q10.3,8.5 15.7,-10.7 t-11.9,-17.9 M1213.2,1350.3 q-12.6,-5.2 1.5,-4 t2.6,-7.1 M756.5,1552.7 q-12.4,-1.9 6.1,-19.8 t14.5,-17.1 M980.9,1589.4 q9.5,-9.9 18.4,-12.9 t-16,-16.2 M1251.8,1544.6 q-12.8,9.4 -9.1,-11.8 t3.3,-7.3 M977,1492.1 q-3.4,3.9 -12.2,2 t-16.3,-1.4 M1219.6,1377.7 q-5.9,-4.3 11,-0.2 t17.2,-16.3 M1099.1,1340.8 q11.9,-13.1 4.3,20.6 t-6.2,17.8 M995.6,1532.9 q1.7,-11.3 2.3,12.7 t3.8,-1.5 M956.4,1355 q-9.2,12.4 -7.4,15.1 t14.9,-0.8 M1131.1,1644.9 q0.2,-3.7 -13.3,-4.2 t-11.9,-14.9 M795.6,1352.2 q-7.6,7 -15.2,-10.4 t-18.8,-4.3 M1000.9,1386 q-7.1,2.8 21.2,-20.2 t4.7,7.7 M945.3,1506.7 q-7.1,6.5 7.9,-15.3 t-6.2,-14.4 M1070.9,1179 q7,3.8 -13.2,5.5 t13.8,11.5 M1155.4,1204 q11.3,6.9 14.6,13.3 t3.6,-2.6 M1278.1,1406 q-6.9,9.5 -11.8,-13.3 t-1.7,-10.5 M1271.7,1361.1 q-2.6,-11.6 6.7,14.8 t-6.4,3.8 " fill="none" stroke="#2a22c8" stroke-width="2.4" stroke-linecap="round"/>
<circle cx="1019" cy="1458" r="309" fill="url(#npShade)"/>
</g>
<clipPath id="cavClip"><path d="M939.3,1210.3 C947,1202.4 963.3,1190.2 976.3,1184.8 C989.3,1179.4 1015,1172.8 1031.9,1171.9 C1048.7,1170.9 1079.2,1173.8 1096.7,1178.3 C1114.2,1182.9 1140.6,1194.1 1156.9,1204.3 C1173.1,1214.4 1198.8,1236.3 1212.4,1250.6 C1226,1264.8 1244.4,1289.3 1254.1,1306.1 C1263.8,1323 1276,1352.8 1281.9,1370.9 C1287.7,1389.1 1293.7,1419 1295.7,1435.7 C1297.8,1452.5 1301.9,1479.4 1296.7,1490.4 C1291.5,1501.4 1273.7,1507.8 1258.7,1514.4 C1243.7,1521.1 1211.9,1532.1 1189.3,1537.6 C1166.6,1543.1 1122.6,1551.9 1096.7,1553.8 C1070.7,1555.7 1028.7,1552.5 1004.1,1551.5 C979.4,1550.5 938.1,1548.6 920.7,1546.9 C903.4,1545.1 886,1546.9 880,1539 C874,1531.1 878.1,1503.7 878.1,1490.4 C878.1,1477.1 879.2,1463.5 880,1444.1 C880.8,1424.6 881.1,1374 883.7,1351.5 C886.3,1328.9 893.3,1298.4 898.5,1283 C903.7,1267.5 915,1251.5 920.7,1241.3 C926.4,1231.1 931.5,1218.2 939.3,1210.3Z"/></clipPath>
<path d="M939.3,1210.3 C947,1202.4 963.3,1190.2 976.3,1184.8 C989.3,1179.4 1015,1172.8 1031.9,1171.9 C1048.7,1170.9 1079.2,1173.8 1096.7,1178.3 C1114.2,1182.9 1140.6,1194.1 1156.9,1204.3 C1173.1,1214.4 1198.8,1236.3 1212.4,1250.6 C1226,1264.8 1244.4,1289.3 1254.1,1306.1 C1263.8,1323 1276,1352.8 1281.9,1370.9 C1287.7,1389.1 1293.7,1419 1295.7,1435.7 C1297.8,1452.5 1301.9,1479.4 1296.7,1490.4 C1291.5,1501.4 1273.7,1507.8 1258.7,1514.4 C1243.7,1521.1 1211.9,1532.1 1189.3,1537.6 C1166.6,1543.1 1122.6,1551.9 1096.7,1553.8 C1070.7,1555.7 1028.7,1552.5 1004.1,1551.5 C979.4,1550.5 938.1,1548.6 920.7,1546.9 C903.4,1545.1 886,1546.9 880,1539 C874,1531.1 878.1,1503.7 878.1,1490.4 C878.1,1477.1 879.2,1463.5 880,1444.1 C880.8,1424.6 881.1,1374 883.7,1351.5 C886.3,1328.9 893.3,1298.4 898.5,1283 C903.7,1267.5 915,1251.5 920.7,1241.3 C926.4,1231.1 931.5,1218.2 939.3,1210.3Z" fill="url(#npCav)"/>
<g clip-path="url(#cavClip)">
<path d="M920.7,1241.3 C923.3,1237 931.5,1218.2 939.3,1210.3 C947,1202.4 963.3,1190.2 976.3,1184.8 C989.3,1179.4 1015,1172.8 1031.9,1171.9 C1048.7,1170.9 1079.2,1173.8 1096.7,1178.3 C1114.2,1182.9 1140.6,1194.1 1156.9,1204.3 C1173.1,1214.4 1198.8,1236.3 1212.4,1250.6 C1226,1264.8 1244.4,1289.3 1254.1,1306.1 C1263.8,1323 1276,1352.8 1281.9,1370.9 C1287.7,1389.1 1293.7,1419 1295.7,1435.7 C1297.8,1452.5 1296.5,1482.7 1296.7,1490.4" fill="none" stroke="#184f92" stroke-width="62" opacity="0.75" filter="url(#blur3)"/>
<path d="M879.1,1536.7 C879.7,1518.1 881.2,1431.7 883.7,1397.8 C886.2,1363.8 890.2,1307 897.6,1282 C905,1257 933.7,1219.8 939.3,1210.3" fill="none" stroke="#1a5496" stroke-width="50" opacity="0.6" filter="url(#blur3)"/>
<path d="M1014.3,1175.6 L1066.6,1175.6 L1066.6,1555.2 L1014.3,1555.2Z" fill="#5aa6e2" opacity="0.32"/>
<path d="M1066.6,1175.6 L1300.4,1175.6 L1300.4,1555.2 L1066.6,1555.2Z" fill="#3a8ad0" opacity="0.18"/>
<path d="M925.5,1247.7 l13.9,18 M928.5,1242.6 l12.5,15 M931.4,1237.6 l10,15.1 M934.4,1232.5 l10.3,17.7 M937.3,1227.4 l8.8,17.1 M940.3,1222.3 l11,15.3 M943.2,1217.2 l9.7,18.5 M948.3,1213.7 l9.8,17.4 M953.5,1210.1 l10.6,18.2 M958.6,1206.6 l8,17.6 M963.7,1203 l10,19.7 M968.8,1199.5 l9.4,18.7 M973.9,1195.9 l5.9,17.3 M979.1,1192.3 l6.4,19.5 M985.1,1190.9 l4.5,20.1 M991,1189.6 l7.2,19.1 M997,1188.2 l3.6,20.4 M1003,1186.8 l4.8,20 M1009,1185.4 l4.9,20.4 M1015,1184 l3.8,21.4 M1021,1182.6 l5.6,21.4 M1027,1181.2 l3.7,19 M1033,1179.8 l2.3,18.9 M1039.3,1180.4 l4,21 M1045.6,1181.1 l3,21.2 M1051.9,1181.8 l3.4,20.7 M1058.1,1182.4 l0.2,21 M1064.4,1183.1 l-0.5,20.4 M1070.7,1183.7 l-1.4,21.4 M1077,1184.4 l-0.6,19.1 M1083.3,1185 l0.7,18.3 M1089.6,1185.7 l0.2,21 M1095.9,1186.3 l-3.4,20.9 M1101.7,1188.9 l-2.2,21.5 M1107.5,1191.4 l-2.6,19.5 M1113.3,1194 l-1.7,18 M1119.2,1196.5 l-2.9,18 M1125,1199.1 l-5.3,18 M1130.8,1201.6 l-3.5,19.1 M1136.6,1204.2 l-4.5,18.3 M1142.4,1206.7 l-5,19.7 M1148.3,1209.2 l-8,18.9 M1154.1,1211.8 l-6,17.6 M1158.5,1215.6 l-6.7,17.7 M1163,1219.3 l-8.3,20.1 M1167.5,1223.1 l-6.4,20.2 M1171.9,1226.9 l-8.9,18.3 M1176.4,1230.7 l-7.8,18.9 M1180.8,1234.4 l-9.7,19.1 M1185.3,1238.2 l-10.3,19.2 M1189.7,1242 l-10.5,15.6 M1194.2,1245.7 l-9.8,15.4 M1198.7,1249.5 l-10.5,14.8 M1203.1,1253.2 l-9.7,16.5 M1207.6,1257 l-11.1,14.5 M1211.2,1261.9 l-11.9,15.2 M1214.9,1266.8 l-13.8,16.6 M1218.5,1271.7 l-15.1,14.9 M1222.1,1276.6 l-15.3,16 M1225.7,1281.5 l-12.4,12.4 M1229.4,1286.4 l-14.5,13.8 M1233,1291.3 l-13.9,14.4 M1236.7,1296.2 l-15.8,14.8 M1240.3,1301.1 l-16.8,11.2 M1243.9,1305.9 l-14.6,10.7 M1247.6,1310.8 l-17.4,11.8 M1250,1316.5 l-17.1,10 M1252.4,1322.2 l-15.1,10.7 M1254.8,1327.9 l-16,9.4 M1257.2,1333.6 l-15.7,8.8 M1259.6,1339.3 l-16,9.8 M1262.1,1345 l-16,10 M1264.5,1350.7 l-17.7,8.5 M1266.9,1356.4 l-17,7.6 M1269.4,1362.1 l-20.2,8.9 M1271.8,1367.7 l-17.6,7.5 M1274.2,1373.4 l-18,5.1 M1275.4,1379.1 l-19.3,7 M1276.6,1384.8 l-17.5,6.9 M1277.9,1390.5 l-20.8,5.4 M1279.1,1396.1 l-19.4,3.7 M1280.3,1401.8 l-21,2.1 M1281.5,1407.5 l-19.9,3 M1282.8,1413.2 l-20.8,2 M1284,1418.9 l-19.7,3 M1285.2,1424.5 l-19.6,0.1 M1286.5,1430.2 l-18.4,0.4 M1287.7,1435.9 l-18.2,2.3 M1287.8,1441.7 l-21.4,0.2 M1288,1447.6 l-18.1,-1.2 M1288.1,1453.5 l-19.8,-2 M1288.2,1459.3 l-21.8,-2.9 M1288.3,1465.2 l-21.4,-3.2 M1288.4,1471 l-19.3,-2.6 M1288.6,1476.9 l-17.9,-2.6 M1288.7,1482.8 l-20.2,-2 " fill="none" stroke="#6fb3e0" stroke-width="1.8" opacity="0.75"/>
<g fill="none" stroke="#86bfe2" stroke-width="4.2" stroke-linecap="round" opacity="0.7" filter="url(#blur05)">
<path d="M888.3,1527.4 C893.7,1513.5 907.6,1471.9 920.7,1444.1 C933.9,1416.3 950.1,1384.7 967,1360.7 C984,1336.8 1004.1,1316 1022.6,1300.6 C1041.1,1285.1 1061.2,1274.3 1078.1,1268.1 C1095.1,1262 1116.7,1264.3 1124.4,1263.5"/>
<path d="M960.1,1407 C959.7,1417.8 955.1,1451.8 957.8,1471.9 C960.5,1491.9 967,1512 976.3,1527.4 C985.6,1542.8 1007.2,1558.3 1013.3,1564.4"/>
<path d="M960.1,1407 C964.3,1395.5 973.6,1357.7 985.6,1337.6 C997.5,1317.5 1014.9,1299 1031.9,1286.7 C1048.8,1274.3 1078.1,1267.4 1087.4,1263.5"/>
<path d="M883.7,1337.6 C899.1,1336 943.9,1328.3 976.3,1328.3 C1008.7,1328.3 1044.2,1330.6 1078.1,1337.6 C1112.1,1344.5 1150.7,1356.9 1180,1370 C1209.3,1383.1 1241.7,1408.6 1254.1,1416.3"/>
<path d="M883.7,1439.4 C903.8,1438.7 964,1434.8 1004.1,1434.8 C1044.2,1434.8 1089,1436.4 1124.4,1439.4 C1159.9,1442.5 1193.9,1447.2 1217,1453.3 C1240.2,1459.5 1255.6,1472.6 1263.3,1476.5"/>
<path d="M888.3,1499.6 C899.9,1495 930.8,1478.8 957.8,1471.9 C984.8,1464.9 1019.5,1459.5 1050.4,1458 C1081.2,1456.4 1112.1,1457.2 1143,1462.6 C1173.8,1468 1220.1,1485.7 1235.6,1490.4"/>
<path d="M1031.9,1272.8 C1034.9,1285.9 1045.7,1322.9 1050.4,1351.5 C1055,1380 1059.6,1413.2 1059.6,1444.1 C1059.6,1474.9 1051.9,1521.2 1050.4,1536.7"/>
<path d="M1138.3,1212.6 C1133.7,1228 1117.5,1274.3 1110.6,1305.2 C1103.6,1336 1097.4,1366.9 1096.7,1397.8 C1095.9,1428.6 1104.4,1474.9 1105.9,1490.4"/>
<path d="M1004.1,1258.9 C1019.5,1268.1 1067.3,1294.4 1096.7,1314.4 C1126,1334.5 1158.4,1357.7 1180,1379.3 C1201.6,1400.9 1217,1424 1226.3,1444.1 C1235.6,1464.1 1234,1490.4 1235.6,1499.6"/>
<path d="M939.3,1314.4 C954.7,1322.2 1002.5,1343.8 1031.9,1360.7 C1061.2,1377.7 1089,1400.9 1115.2,1416.3 C1141.4,1431.7 1176.9,1447.2 1189.3,1453.3"/>
</g>
<path d="M1018,1434.8 C1026.5,1431 1055.8,1436.4 1068.9,1439.4 C1082,1442.5 1096.7,1449.1 1096.7,1453.3 C1096.7,1457.6 1082,1463.4 1068.9,1464.9 C1055.8,1466.5 1026.5,1467.6 1018,1462.6 C1009.5,1457.6 1009.5,1438.7 1018,1434.8Z" fill="#9fd0f0" opacity="0.45"/>
<circle cx="1024.9" cy="1270.5" r="10.5" fill="#e0407a" opacity="0.55" filter="url(#blur15)"/>
<circle cx="1115.2" cy="1356.1" r="10.5" fill="#e0407a" opacity="0.6" filter="url(#blur15)"/>
<circle cx="899.9" cy="1363.1" r="10.5" fill="#e0407a" opacity="0.5" filter="url(#blur15)"/>
<circle cx="909.2" cy="1527.4" r="10.5" fill="#e0407a" opacity="0.55" filter="url(#blur15)"/>
<circle cx="1112.9" cy="1497.3" r="10.5" fill="#e0407a" opacity="0.4" filter="url(#blur15)"/>
<circle cx="1013.3" cy="1386.2" r="12.5" fill="url(#gRed)"/>
<circle cx="1115.2" cy="1446.4" r="12.5" fill="url(#gRed)"/>
<circle cx="1030.5" cy="1474.2" r="12.5" fill="url(#gRed)"/>
</g>
<circle class="cp" cx="913.8" cy="1235.7"/>
<circle class="cp" cx="922.5" cy="1219.1"/>
<circle class="cg" cx="933.8" cy="1204.1"/>
<circle class="cg" cx="947.4" cy="1191.3"/>
<circle class="cp" cx="962.1" cy="1180.6"/>
<circle class="cp" cx="979.5" cy="1172.3"/>
<circle class="cp" cx="996.9" cy="1166.7"/>
<circle class="cm" cx="1015.8" cy="1162.6"/>
<circle class="cp" cx="1035.1" cy="1160.6"/>
<circle class="cm" cx="1054.9" cy="1160.6"/>
<circle class="cp" cx="1075.4" cy="1162.6"/>
<circle class="cp" cx="1095.7" cy="1166.4"/>
<circle class="cp" cx="1115.5" cy="1172"/>
<circle class="cp" cx="1132" cy="1178.1"/>
<circle class="cp" cx="1148.1" cy="1185.5"/>
<circle class="cp" cx="1163.8" cy="1194.1"/>
<circle class="cg" cx="1179.1" cy="1204.2"/>
<circle class="cg" cx="1194" cy="1215.7"/>
<circle class="cg" cx="1208.3" cy="1228.2"/>
<circle class="cg" cx="1221.7" cy="1241.3"/>
<circle class="cm" cx="1234" cy="1254.9"/>
<circle class="cg" cx="1245.5" cy="1269.2"/>
<circle class="cg" cx="1256.1" cy="1284.2"/>
<circle class="cp" cx="1265.6" cy="1299.6"/>
<circle class="cp" cx="1274.2" cy="1315.7"/>
<circle class="cp" cx="1281.9" cy="1332.3"/>
<circle class="cm" cx="1288.6" cy="1349.3"/>
<circle class="cp" cx="1294.4" cy="1366.3"/>
<circle class="cp" cx="1299.2" cy="1383.4"/>
<circle class="cp" cx="1303.1" cy="1400.8"/>
<circle class="cp" cx="1306.1" cy="1418.1"/>
<circle class="cg" cx="1308.6" cy="1438.1"/>
<circle class="cp" cx="1309.3" cy="1456"/>
<circle class="cg" cx="1309" cy="1473.8"/>
<circle class="cp" cx="1308.4" cy="1491.4"/>
<circle class="cp" cx="876.8" cy="1552.9"/>
<circle class="cp" cx="895.8" cy="1556.4"/>
<circle class="cg" cx="914.6" cy="1559.1"/>
<circle class="cp" cx="934.7" cy="1561.1"/>
<circle class="cg" cx="955" cy="1562.6"/>
<circle class="cp" cx="977.2" cy="1564.1"/>
<circle class="cg" cx="995.2" cy="1565"/>
<circle class="cp" cx="1017.5" cy="1566"/>
<circle class="cp" cx="1035.8" cy="1566.9"/>
<circle class="cm" cx="1054.5" cy="1567.6"/>
<circle class="cp" cx="1073.3" cy="1567.7"/>
<circle class="cg" cx="1092" cy="1567.1"/>
<circle class="cp" cx="1110.8" cy="1565.3"/>
<circle class="cg" cx="1130" cy="1562.7"/>
<circle class="cm" cx="1149.2" cy="1559.3"/>
<circle class="cp" cx="1167.7" cy="1555.5"/>
<circle class="cg" cx="1189.3" cy="1550.6"/>
<circle class="cp" cx="1209" cy="1545.3"/>
<circle class="cp" cx="1227.3" cy="1539.6"/>
<circle class="cp" cx="1247.1" cy="1532.3"/>
<circle class="cg" cx="1264" cy="1524.8"/>
<circle class="cg" cx="1280.7" cy="1514.7"/>
<circle class="cm" cx="1295.8" cy="1503.5"/>
<path d="M929.9,1690.7 C933,1694.7 948,1698 945,1710 C942,1721.9 915.2,1732.8 915.3,1748.8 C915.4,1764.7 945.4,1771.2 945.6,1787.2 C945.7,1803.2 915.7,1810.1 915.8,1826 C915.9,1842 942.9,1852.5 946.1,1864.4 C949.3,1876.4 934.3,1879.9 931.2,1883.9 M896.8,1677.5 C892.7,1679.6 877.7,1676.9 877,1687.5 C876.3,1698.1 898.2,1716.2 893.4,1728.9 C888.6,1741.5 858.5,1736.2 853.7,1748.9 C848.9,1761.6 874.9,1777.6 870.1,1790.2 C865.3,1802.9 836.9,1801.9 830.4,1810.3 C823.9,1818.7 836.9,1826.7 838.6,1831 M1082,1704 C1085.9,1707 1101.2,1706.8 1100.7,1718.6 C1100.3,1730.5 1076.3,1746.4 1079.7,1761.3 C1083.1,1776.1 1113.7,1775.7 1117.1,1790.6 C1120.5,1805.5 1092.7,1818.4 1096.1,1833.2 C1099.5,1848.1 1128,1852.1 1133.5,1862.5 C1139.1,1873 1125.2,1879.5 1123,1883.9 M1168,1690.7 C1166.4,1694.9 1153.6,1703.1 1160.1,1710.8 C1166.7,1718.4 1194.8,1715.9 1199.7,1727.6 C1204.6,1739.4 1179,1755.9 1183.9,1767.6 C1188.8,1779.4 1216.9,1776.9 1223.5,1784.5 C1230,1792.1 1217.2,1800.4 1215.6,1804.5 M1220.9,1664.3 C1224.7,1666.5 1239.9,1665 1239.4,1674.9 C1239,1684.9 1215.4,1700.2 1218.8,1712.4 C1222.1,1724.5 1252.5,1721.5 1255.8,1733.7 C1259.2,1745.8 1231.8,1759 1235.2,1771.1 C1238.5,1783.2 1266.7,1784.1 1272.3,1792.4 C1277.8,1800.7 1264,1807.2 1261.9,1811.1 M797.6,1611.4 C792.9,1612 779.7,1604.3 774.7,1614.4 C769.7,1624.6 783.2,1649.9 773.5,1660.7 C763.7,1671.5 737.3,1656 727.6,1666.8 C717.9,1677.6 736.1,1702.2 726.4,1713.1 C716.6,1723.9 690.1,1713.2 680.5,1719.2 C670.9,1725.3 680,1737.5 679.9,1742.3 M1260.6,1631.2 C1264.3,1632.4 1277.9,1628.6 1278.5,1636.9 C1279,1645.1 1258.9,1661.8 1263.2,1671.2 C1267.4,1680.6 1294.7,1673.1 1299,1682.5 C1303.2,1692 1283.1,1708.6 1283.7,1716.8 C1284.2,1725.1 1297.9,1721.3 1301.6,1722.5 " fill="none" stroke="#175c54" stroke-width="8.6" stroke-linecap="round" stroke-linejoin="round"/>
<path d="M929.9,1690.7 C933,1694.7 948,1698 945,1710 C942,1721.9 915.2,1732.8 915.3,1748.8 C915.4,1764.7 945.4,1771.2 945.6,1787.2 C945.7,1803.2 915.7,1810.1 915.8,1826 C915.9,1842 942.9,1852.5 946.1,1864.4 C949.3,1876.4 934.3,1879.9 931.2,1883.9 M896.8,1677.5 C892.7,1679.6 877.7,1676.9 877,1687.5 C876.3,1698.1 898.2,1716.2 893.4,1728.9 C888.6,1741.5 858.5,1736.2 853.7,1748.9 C848.9,1761.6 874.9,1777.6 870.1,1790.2 C865.3,1802.9 836.9,1801.9 830.4,1810.3 C823.9,1818.7 836.9,1826.7 838.6,1831 M1082,1704 C1085.9,1707 1101.2,1706.8 1100.7,1718.6 C1100.3,1730.5 1076.3,1746.4 1079.7,1761.3 C1083.1,1776.1 1113.7,1775.7 1117.1,1790.6 C1120.5,1805.5 1092.7,1818.4 1096.1,1833.2 C1099.5,1848.1 1128,1852.1 1133.5,1862.5 C1139.1,1873 1125.2,1879.5 1123,1883.9 M1168,1690.7 C1166.4,1694.9 1153.6,1703.1 1160.1,1710.8 C1166.7,1718.4 1194.8,1715.9 1199.7,1727.6 C1204.6,1739.4 1179,1755.9 1183.9,1767.6 C1188.8,1779.4 1216.9,1776.9 1223.5,1784.5 C1230,1792.1 1217.2,1800.4 1215.6,1804.5 M1220.9,1664.3 C1224.7,1666.5 1239.9,1665 1239.4,1674.9 C1239,1684.9 1215.4,1700.2 1218.8,1712.4 C1222.1,1724.5 1252.5,1721.5 1255.8,1733.7 C1259.2,1745.8 1231.8,1759 1235.2,1771.1 C1238.5,1783.2 1266.7,1784.1 1272.3,1792.4 C1277.8,1800.7 1264,1807.2 1261.9,1811.1 M797.6,1611.4 C792.9,1612 779.7,1604.3 774.7,1614.4 C769.7,1624.6 783.2,1649.9 773.5,1660.7 C763.7,1671.5 737.3,1656 727.6,1666.8 C717.9,1677.6 736.1,1702.2 726.4,1713.1 C716.6,1723.9 690.1,1713.2 680.5,1719.2 C670.9,1725.3 680,1737.5 679.9,1742.3 M1260.6,1631.2 C1264.3,1632.4 1277.9,1628.6 1278.5,1636.9 C1279,1645.1 1258.9,1661.8 1263.2,1671.2 C1267.4,1680.6 1294.7,1673.1 1299,1682.5 C1303.2,1692 1283.1,1708.6 1283.7,1716.8 C1284.2,1725.1 1297.9,1721.3 1301.6,1722.5 " fill="none" stroke="#2f9486" stroke-width="3.6" stroke-linecap="round" stroke-linejoin="round" transform="translate(-1,-1)"/>
</g>
<rect x="2128" y="156.3" width="1493" height="189.1" fill="#dadadc"/>
<clipPath id="tc0"><path d="M2223,190.7 C2225.4,190.4 2235.3,195.9 2237.7,197.2 C2240.2,198.5 2247.9,202.2 2249.2,204.8 C2250.5,207.4 2251.1,221.5 2251.8,225.1 C2252.5,228.7 2255.3,241.2 2256.7,243.1 C2258.1,245 2265.8,242.8 2266.6,245.4 C2267.3,248 2265.4,265.8 2264.9,271 C2264.4,276.1 2262.6,295.7 2261.3,300.5 C2260.1,305.3 2254.3,320.8 2251.5,322.8 C2248.7,324.8 2235.2,322.9 2231.1,321.8 C2227.1,320.7 2212.5,313.8 2208.2,311 C2203.9,308.1 2187.7,295.4 2184.6,291.3 C2181.5,287.3 2175.8,272.4 2175.4,267.7 C2175,263.1 2178.5,246.1 2180.3,241.5 C2182.2,236.8 2192.2,221.8 2195.1,217.9 C2198,214 2208.9,202 2211.5,199.5 C2214.1,197 2220.5,190.9 2223,190.7Z"/></clipPath>
<g filter="url(#blur05)"><path d="M2223,190.7 C2225.4,190.4 2235.3,195.9 2237.7,197.2 C2240.2,198.5 2247.9,202.2 2249.2,204.8 C2250.5,207.4 2251.1,221.5 2251.8,225.1 C2252.5,228.7 2255.3,241.2 2256.7,243.1 C2258.1,245 2265.8,242.8 2266.6,245.4 C2267.3,248 2265.4,265.8 2264.9,271 C2264.4,276.1 2262.6,295.7 2261.3,300.5 C2260.1,305.3 2254.3,320.8 2251.5,322.8 C2248.7,324.8 2235.2,322.9 2231.1,321.8 C2227.1,320.7 2212.5,313.8 2208.2,311 C2203.9,308.1 2187.7,295.4 2184.6,291.3 C2181.5,287.3 2175.8,272.4 2175.4,267.7 C2175,263.1 2178.5,246.1 2180.3,241.5 C2182.2,236.8 2192.2,221.8 2195.1,217.9 C2198,214 2208.9,202 2211.5,199.5 C2214.1,197 2220.5,190.9 2223,190.7Z" fill="#84201e"/>
<g clip-path="url(#tc0)">
<g filter="url(#blur3)">
<ellipse cx="2204.9" cy="248" rx="26.2" ry="42.6" fill="#a4442c" opacity="0.8"/>
<ellipse cx="2209.8" cy="238.2" rx="13.1" ry="16.4" fill="#b4683a" opacity="0.55"/>
<ellipse cx="2245.9" cy="284.1" rx="21.3" ry="34.4" fill="#5a1016" opacity="0.9"/>
<ellipse cx="2231.1" cy="315.2" rx="26.2" ry="11.5" fill="#4d0a10" opacity="0.8"/>
<ellipse cx="2241" cy="208.7" rx="9.8" ry="13.1" fill="#8a1c1e" opacity="0.7"/>
<ellipse cx="2182" cy="277.5" rx="8.2" ry="19.7" fill="#8a3a30" opacity="0.6"/>
</g>
<circle cx="2250.2" cy="228.4" r="1.7" fill="#ffd8d0" opacity="0.9"/>
<circle cx="2208.2" cy="243.1" r="1.3" fill="#ffd8d0" opacity="0.9"/>
<circle cx="2215.4" cy="244.8" r="1.3" fill="#ffd8d0" opacity="0.9"/>
</g></g>
<clipPath id="tc1"><path d="M2423,231.6 C2426.8,231 2439.6,232.5 2442.6,234.9 C2445.7,237.4 2454.2,253.3 2455.7,257.9 C2457.3,262.5 2459.3,279.2 2459.3,284.1 C2459.4,289 2457.8,306.6 2456.1,310.3 C2454.4,314.1 2445.1,322.2 2441,324.1 C2436.9,326 2416.4,331 2412.1,330.7 C2407.8,330.3 2397.6,323 2395.1,320.2 C2392.6,317.3 2386.5,304.5 2385.2,300.5 C2384,296.5 2381,281.5 2381.3,277.5 C2381.6,273.6 2386.6,261.2 2388.5,257.9 C2390.4,254.5 2398.4,243.9 2401.6,241.5 C2404.9,239 2419.1,232.3 2423,231.6Z"/></clipPath>
<g filter="url(#blur05)"><path d="M2423,231.6 C2426.8,231 2439.6,232.5 2442.6,234.9 C2445.7,237.4 2454.2,253.3 2455.7,257.9 C2457.3,262.5 2459.3,279.2 2459.3,284.1 C2459.4,289 2457.8,306.6 2456.1,310.3 C2454.4,314.1 2445.1,322.2 2441,324.1 C2436.9,326 2416.4,331 2412.1,330.7 C2407.8,330.3 2397.6,323 2395.1,320.2 C2392.6,317.3 2386.5,304.5 2385.2,300.5 C2384,296.5 2381,281.5 2381.3,277.5 C2381.6,273.6 2386.6,261.2 2388.5,257.9 C2390.4,254.5 2398.4,243.9 2401.6,241.5 C2404.9,239 2419.1,232.3 2423,231.6Z" fill="#a81a16"/>
<g clip-path="url(#tc1)">
<g filter="url(#blur3)">
<ellipse cx="2423" cy="267.7" rx="21.3" ry="21.3" fill="#bc3c26" opacity="0.7"/>
<ellipse cx="2414.8" cy="315.2" rx="29.5" ry="13.1" fill="#6e0f12" opacity="0.85"/>
<ellipse cx="2390.2" cy="293.9" rx="9.2" ry="19.7" fill="#7a1014" opacity="0.8"/>
<ellipse cx="2449.2" cy="293.9" rx="9.2" ry="19.7" fill="#8a1212" opacity="0.7"/>
<ellipse cx="2427.9" cy="238.2" rx="16.4" ry="6.6" fill="#a81818" opacity="0.6"/>
</g>
<circle cx="2396.7" cy="270.3" r="1.7" fill="#ffd8d0" opacity="0.9"/>
<circle cx="2405.6" cy="274.3" r="1.3" fill="#ffd8d0" opacity="0.9"/>
<circle cx="2442.6" cy="272.6" r="1.7" fill="#ffd8d0" opacity="0.9"/>
<circle cx="2427.9" cy="300.5" r="1.7" fill="#ffd8d0" opacity="0.9"/>
<circle cx="2445.9" cy="299.5" r="1.7" fill="#ffd8d0" opacity="0.9"/>
</g></g>
<clipPath id="tc2"><path d="M2653.4,234.3 C2655.3,233.8 2662.1,241.7 2664.6,243.1 C2667.1,244.6 2677.9,247.4 2680.3,249.7 C2682.7,252 2688.3,263.6 2690.2,267.7 C2692,271.8 2699,291.1 2700,293.9 C2701,296.7 2701.9,296 2700.7,297.9 C2699.4,299.7 2689.5,311.1 2686.9,313.6 C2684.2,316.1 2674.9,323.9 2672.1,325.1 C2669.4,326.3 2659.7,327.5 2657.4,326.7 C2655.1,326 2649.1,319.9 2647.5,316.9 C2646,313.8 2641.9,298.5 2641,293.9 C2640.1,289.3 2637.4,272 2637.7,267.7 C2638,263.4 2642.8,251.2 2644.3,248 C2645.7,244.9 2651.5,234.7 2653.4,234.3Z"/></clipPath>
<g filter="url(#blur05)"><path d="M2653.4,234.3 C2655.3,233.8 2662.1,241.7 2664.6,243.1 C2667.1,244.6 2677.9,247.4 2680.3,249.7 C2682.7,252 2688.3,263.6 2690.2,267.7 C2692,271.8 2699,291.1 2700,293.9 C2701,296.7 2701.9,296 2700.7,297.9 C2699.4,299.7 2689.5,311.1 2686.9,313.6 C2684.2,316.1 2674.9,323.9 2672.1,325.1 C2669.4,326.3 2659.7,327.5 2657.4,326.7 C2655.1,326 2649.1,319.9 2647.5,316.9 C2646,313.8 2641.9,298.5 2641,293.9 C2640.1,289.3 2637.4,272 2637.7,267.7 C2638,263.4 2642.8,251.2 2644.3,248 C2645.7,244.9 2651.5,234.7 2653.4,234.3Z" fill="#ae211c"/>
<g clip-path="url(#tc2)">
<g filter="url(#blur3)">
<ellipse cx="2677" cy="274.3" rx="13.1" ry="21.3" fill="#c25a38" opacity="0.7"/>
<ellipse cx="2657.4" cy="315.2" rx="16.4" ry="11.5" fill="#6e0e12" opacity="0.85"/>
<ellipse cx="2644.3" cy="284.1" rx="6.6" ry="23" fill="#8a1414" opacity="0.8"/>
<ellipse cx="2694.1" cy="289" rx="5.2" ry="9.2" fill="#d08a5a" opacity="0.8"/>
</g>
<circle cx="2673.1" cy="282.5" r="1.7" fill="#ffd8d0" opacity="0.9"/>
<circle cx="2668.9" cy="284.8" r="1.3" fill="#ffd8d0" opacity="0.9"/>
</g></g>
<clipPath id="tc3"><path d="M2912.9,210.9 C2914.9,210.5 2920.9,215.1 2923.3,215.4 C2925.7,215.7 2936.8,212.7 2938.8,214.3 C2940.7,216 2943.1,229.3 2943.9,233.3 C2944.7,237.3 2947.4,252.6 2947.4,257.4 C2947.4,262.2 2944.9,280.5 2943.9,284.9 C2943,289.3 2938.3,302.8 2937,304.5 C2935.8,306.3 2932.5,305.2 2930.9,303.9 C2929.2,302.5 2922.1,292.8 2919.8,290.1 C2917.5,287.3 2910.1,278 2906.1,274.6 C2902,271.2 2878.1,257.8 2876.8,253.9 C2875.5,250.1 2889.9,236.5 2892.3,233.3 C2894.7,230.1 2900.7,221.6 2902.6,219.5 C2904.5,217.4 2911,211.3 2912.9,210.9Z"/></clipPath>
<g filter="url(#blur05)"><path d="M2912.9,210.9 C2914.9,210.5 2920.9,215.1 2923.3,215.4 C2925.7,215.7 2936.8,212.7 2938.8,214.3 C2940.7,216 2943.1,229.3 2943.9,233.3 C2944.7,237.3 2947.4,252.6 2947.4,257.4 C2947.4,262.2 2944.9,280.5 2943.9,284.9 C2943,289.3 2938.3,302.8 2937,304.5 C2935.8,306.3 2932.5,305.2 2930.9,303.9 C2929.2,302.5 2922.1,292.8 2919.8,290.1 C2917.5,287.3 2910.1,278 2906.1,274.6 C2902,271.2 2878.1,257.8 2876.8,253.9 C2875.5,250.1 2889.9,236.5 2892.3,233.3 C2894.7,230.1 2900.7,221.6 2902.6,219.5 C2904.5,217.4 2911,211.3 2912.9,210.9Z" fill="#c23a24"/>
<g clip-path="url(#tc3)">
<g filter="url(#blur3)">
<ellipse cx="2923.3" cy="243.6" rx="17.2" ry="24.1" fill="#d0603a" opacity="0.8"/>
<ellipse cx="2888.9" cy="252.2" rx="12" ry="12" fill="#c01616" opacity="0.9"/>
<ellipse cx="2933.6" cy="291.8" rx="8.6" ry="13.8" fill="#d48a7a" opacity="0.9"/>
<ellipse cx="2930.2" cy="219.5" rx="10.3" ry="6.9" fill="#b03020" opacity="0.6"/>
</g>
<circle cx="2911.2" cy="229.8" r="1.3" fill="#ffd8d0" opacity="0.9"/>
<circle cx="2922.6" cy="229.1" r="1.3" fill="#ffd8d0" opacity="0.9"/>
<circle cx="2910.2" cy="243.6" r="1.3" fill="#ffd8d0" opacity="0.9"/>
<circle cx="2926.7" cy="243.6" r="1.8" fill="#ffd8d0" opacity="0.9"/>
<circle cx="2930.9" cy="251.2" r="1.8" fill="#ffd8d0" opacity="0.9"/>
<circle cx="2929.5" cy="258.1" r="1.3" fill="#ffd8d0" opacity="0.9"/>
</g></g>
<clipPath id="tc4"><path d="M3114.3,211.9 C3117.6,211.6 3127.4,215.5 3129.8,217.8 C3132.2,220.1 3138.7,233 3140.2,236.7 C3141.6,240.4 3145.5,254 3145.7,257.4 C3145.9,260.7 3143.5,270.9 3142.2,272.9 C3140.9,274.9 3134,278.7 3131.6,278.7 C3129.1,278.7 3118.8,274.4 3116.1,272.9 C3113.3,271.4 3104.2,265.1 3102.3,262.5 C3100.4,260 3096.9,248.1 3095.4,245.3 C3094,242.6 3086.8,235.5 3086.8,233.3 C3086.8,231 3092.8,223.2 3095.4,221.2 C3098,219.2 3111.1,212.3 3114.3,211.9Z"/></clipPath>
<g filter="url(#blur05)"><path d="M3114.3,211.9 C3117.6,211.6 3127.4,215.5 3129.8,217.8 C3132.2,220.1 3138.7,233 3140.2,236.7 C3141.6,240.4 3145.5,254 3145.7,257.4 C3145.9,260.7 3143.5,270.9 3142.2,272.9 C3140.9,274.9 3134,278.7 3131.6,278.7 C3129.1,278.7 3118.8,274.4 3116.1,272.9 C3113.3,271.4 3104.2,265.1 3102.3,262.5 C3100.4,260 3096.9,248.1 3095.4,245.3 C3094,242.6 3086.8,235.5 3086.8,233.3 C3086.8,231 3092.8,223.2 3095.4,221.2 C3098,219.2 3111.1,212.3 3114.3,211.9Z" fill="#c4502e"/>
<g clip-path="url(#tc4)">
<g filter="url(#blur3)">
<ellipse cx="3122.9" cy="253.9" rx="13.8" ry="13.8" fill="#8a1812" opacity="0.9"/>
<ellipse cx="3095.4" cy="233.3" rx="7.6" ry="10.3" fill="#d89080" opacity="0.8"/>
<ellipse cx="3119.5" cy="224.7" rx="13.8" ry="8.6" fill="#d06a48" opacity="0.7"/>
<ellipse cx="3138.4" cy="262.5" rx="6.2" ry="10.3" fill="#d07050" opacity="0.7"/>
</g>
<circle cx="3136.7" cy="249.8" r="1.8" fill="#ffd8d0" opacity="0.9"/>
<circle cx="3122.3" cy="239.5" r="1.3" fill="#ffd8d0" opacity="0.9"/>
</g></g>
<clipPath id="tc5"><path d="M3369.1,215.4 C3371.5,215.2 3380.9,218.9 3382.9,220.2 C3384.9,221.5 3390.9,227.8 3390.4,229.1 C3390,230.5 3379.9,234 3377.7,235 C3375.5,236 3369.8,238.3 3367.4,239.5 C3365,240.6 3354,247 3351.9,247 C3349.8,247.1 3345.3,241.8 3345,240.2 C3344.7,238.6 3347.3,231.5 3348.4,229.8 C3349.6,228.2 3355.1,223.6 3357,222.3 C3359,220.9 3366.7,215.6 3369.1,215.4Z"/></clipPath>
<g filter="url(#blur05)"><path d="M3369.1,215.4 C3371.5,215.2 3380.9,218.9 3382.9,220.2 C3384.9,221.5 3390.9,227.8 3390.4,229.1 C3390,230.5 3379.9,234 3377.7,235 C3375.5,236 3369.8,238.3 3367.4,239.5 C3365,240.6 3354,247 3351.9,247 C3349.8,247.1 3345.3,241.8 3345,240.2 C3344.7,238.6 3347.3,231.5 3348.4,229.8 C3349.6,228.2 3355.1,223.6 3357,222.3 C3359,220.9 3366.7,215.6 3369.1,215.4Z" fill="#dc9468"/>
<g clip-path="url(#tc5)">
<g filter="url(#blur3)">
<ellipse cx="3369.1" cy="226.4" rx="12" ry="7.6" fill="#e8b264" opacity="0.9"/>
<ellipse cx="3350.2" cy="239.5" rx="5.5" ry="5.5" fill="#d88070" opacity="0.8"/>
</g>
</g></g>
<clipPath id="tc6"><path d="M3565.3,203 C3567.7,202.5 3574.3,205.9 3575.6,207.5 C3577,209 3579.4,217.1 3579.4,219.5 C3579.5,221.9 3577.5,230.7 3576,233.3 C3574.5,235.8 3566.7,245 3563.6,247 C3560.5,249.1 3546.2,255 3542.9,255 C3539.7,255 3530.8,248.9 3529.2,247 C3527.6,245.2 3525.1,237.4 3525.7,235 C3526.4,232.6 3533.8,223.3 3536.1,221.2 C3538.3,219.1 3547.1,214.3 3549.8,212.6 C3552.6,210.9 3562.9,203.5 3565.3,203Z"/></clipPath>
<g filter="url(#blur05)"><path d="M3565.3,203 C3567.7,202.5 3574.3,205.9 3575.6,207.5 C3577,209 3579.4,217.1 3579.4,219.5 C3579.5,221.9 3577.5,230.7 3576,233.3 C3574.5,235.8 3566.7,245 3563.6,247 C3560.5,249.1 3546.2,255 3542.9,255 C3539.7,255 3530.8,248.9 3529.2,247 C3527.6,245.2 3525.1,237.4 3525.7,235 C3526.4,232.6 3533.8,223.3 3536.1,221.2 C3538.3,219.1 3547.1,214.3 3549.8,212.6 C3552.6,210.9 3562.9,203.5 3565.3,203Z" fill="#c0302a"/>
<g clip-path="url(#tc6)">
<g filter="url(#blur3)">
<ellipse cx="3567" cy="216.1" rx="12" ry="12" fill="#d61e1e" opacity="0.85"/>
<ellipse cx="3546.4" cy="240.2" rx="15.5" ry="10.3" fill="#b8625a" opacity="0.8"/>
<ellipse cx="3529.9" cy="238.4" rx="4.8" ry="12" fill="#5a2830" opacity="0.7"/>
</g>
<circle cx="3571.2" cy="223.6" r="1.3" fill="#ffd8d0" opacity="0.9"/>
</g></g>
<ellipse cx="2271.1" cy="249.7" rx="5.5" ry="8" fill="#ecd9c9" filter="url(#blur05)"/>
<ellipse cx="2409.8" cy="327.7" rx="7" ry="4" fill="#e6c2b0" filter="url(#blur05)"/>
<g font-family="Liberation Serif, serif" font-weight="bold" font-size="48.5" fill="#000">
<text id="rl0" transform="translate(2139.7,522.9) rotate(-45)">Control</text>
<text id="rl1" transform="translate(2275,550.5) rotate(-45)">Free siPlk1</text>
<text id="rl2" transform="translate(2486,538.8) rotate(-45)">Free DOX</text>
<text id="rl3" transform="translate(2545,737) rotate(-45)">Free siPlk1 + Free DOX</text>
<text id="rl4" transform="translate(2669.5,853.8) rotate(-45)">Nonsense siRNA-PCNPs/DOX</text>
<text id="rl5" transform="translate(3069.5,680.5) rotate(-45)">siPlk1-PCNPs/DOX</text>
<text id="rl6" transform="translate(3303,647) rotate(-45)">siPlk1-NPs/DOX</text>
</g>
<g stroke="#000" stroke-width="4.4" fill="none" stroke-linecap="round">
<path d="M2301.4,1009.3 V2020.8" stroke-linecap="square"/>
<path d="M2281.4,2020.8 H3670.7" stroke-linecap="square"/>
<path d="M2290.9,1948.5 H2301.4"/>
<path d="M2281.4,1876.3 H2301.4"/>
<path d="M2290.9,1804 H2301.4"/>
<path d="M2281.4,1731.8 H2301.4"/>
<path d="M2290.9,1659.5 H2301.4"/>
<path d="M2281.4,1587.3 H2301.4"/>
<path d="M2290.9,1515 H2301.4"/>
<path d="M2281.4,1442.8 H2301.4"/>
<path d="M2290.9,1370.5 H2301.4"/>
<path d="M2281.4,1298.3 H2301.4"/>
<path d="M2290.9,1226 H2301.4"/>
<path d="M2281.4,1153.8 H2301.4"/>
<path d="M2290.9,1081.5 H2301.4"/>
<path d="M2281.4,1009.3 H2301.4"/>
<path d="M2316.2,2020.8 V2039.8"/>
<path d="M2391.4,2020.8 V2030.8"/>
<path d="M2466.7,2020.8 V2039.8"/>
<path d="M2541.9,2020.8 V2030.8"/>
<path d="M2617.2,2020.8 V2039.8"/>
<path d="M2692.4,2020.8 V2030.8"/>
<path d="M2767.7,2020.8 V2039.8"/>
<path d="M2842.9,2020.8 V2030.8"/>
<path d="M2918.2,2020.8 V2039.8"/>
<path d="M2993.4,2020.8 V2030.8"/>
<path d="M3068.7,2020.8 V2039.8"/>
<path d="M3143.9,2020.8 V2030.8"/>
<path d="M3219.2,2020.8 V2039.8"/>
<path d="M3294.4,2020.8 V2030.8"/>
<path d="M3369.7,2020.8 V2039.8"/>
<path d="M3444.9,2020.8 V2030.8"/>
<path d="M3520.2,2020.8 V2039.8"/>
<path d="M3595.4,2020.8 V2030.8"/>
<path d="M3670.7,2020.8 V2039.8"/>
</g>
<g font-family="Liberation Serif, serif" font-weight="bold" font-size="51.5" fill="#000" text-anchor="middle">
<text x="2316.2" y="2095.5">0</text>
<text x="2466.7" y="2095.5">2</text>
<text x="2617.2" y="2095.5">4</text>
<text x="2767.7" y="2095.5">6</text>
<text x="2918.2" y="2095.5">8</text>
<text x="3068.7" y="2095.5">10</text>
<text x="3219.2" y="2095.5">12</text>
<text x="3369.7" y="2095.5">14</text>
<text x="3520.2" y="2095.5">16</text>
<text x="3670.7" y="2095.5">18</text>
</g>
<g font-family="Liberation Serif, serif" font-weight="bold" font-size="51.5" fill="#000" text-anchor="end">
<text x="2268.5" y="2036.4">0</text>
<text x="2268.5" y="1891.9">1</text>
<text x="2268.5" y="1747.4">2</text>
<text x="2268.5" y="1602.9">3</text>
<text x="2268.5" y="1458.4">4</text>
<text x="2268.5" y="1313.9">5</text>
<text x="2268.5" y="1169.4">6</text>
<text x="2268.5" y="1024.9">7</text>
</g>
<g stroke="#000000" stroke-width="4.6" fill="none" stroke-linecap="round">
<path d="M2328.1,1867.1 L2454.8,1769.9 M2479.3,1752.6 L2604.6,1670.8 M2631.2,1657.3 L2904.2,1554 M2930.5,1540.1 L3206.9,1349.4 M3232.9,1334.7 L3506.5,1212.1 "/>
<path d="M2466.7,1704.5 V1817 M2456.7,1704.5 h20 M2456.7,1817 h20 M2617.2,1585.4 V1739.1 M2607.2,1585.4 h20 M2607.2,1739.1 h20 M2918.2,1499.6 V1599.1 M2908.2,1499.6 h20 M2908.2,1599.1 h20 M3219.2,1210 V1476.5 M3209.2,1210 h20 M3209.2,1476.5 h20 M3520.2,1099.1 V1312.4 M3510.2,1099.1 h20 M3510.2,1312.4 h20 "/>
</g>
<rect x="2307.2" y="1867.2" width="18.1" height="18.1" fill="#000000"/>
<rect x="2457.7" y="1751.7" width="18.1" height="18.1" fill="#000000"/>
<rect x="2608.2" y="1653.6" width="18.1" height="18.1" fill="#000000"/>
<rect x="2909.2" y="1539.6" width="18.1" height="18.1" fill="#000000"/>
<rect x="3210.2" y="1331.8" width="18.1" height="18.1" fill="#000000"/>
<rect x="3511.2" y="1196.9" width="18.1" height="18.1" fill="#000000"/>
<g stroke="#ff0000" stroke-width="4.6" fill="none" stroke-linecap="round">
<path d="M2327.9,1866.8 L2455,1764.4 M2480.5,1749.2 L2603.4,1697.3 M2631.4,1686.7 L2904,1595.3 M2931.8,1584.1 L3205.6,1454.1 M3232,1439.8 L3507.4,1270.2 "/>
<path d="M2466.7,1717.5 V1796.8 M2456.7,1717.5 h20 M2456.7,1796.8 h20 M2617.2,1577.5 V1805.9 M2607.2,1577.5 h20 M2607.2,1805.9 h20 M2918.2,1502.6 V1680 M2908.2,1502.6 h20 M2908.2,1680 h20 M3219.2,1348.5 V1547.2 M3209.2,1348.5 h20 M3209.2,1547.2 h20 M3520.2,1141 V1379.8 M3510.2,1141 h20 M3510.2,1379.8 h20 "/>
</g>
<circle cx="2316.2" cy="1876.2" r="10" fill="#ff0000"/>
<circle cx="2466.7" cy="1755" r="10" fill="#ff0000"/>
<circle cx="2617.2" cy="1691.5" r="10" fill="#ff0000"/>
<circle cx="2918.2" cy="1590.5" r="10" fill="#ff0000"/>
<circle cx="3219.2" cy="1447.6" r="10" fill="#ff0000"/>
<circle cx="3520.2" cy="1262.3" r="10" fill="#ff0000"/>
<g stroke="#00ff00" stroke-width="4.6" fill="none" stroke-linecap="round">
<path d="M2328,1866.9 L2454.9,1767.1 M2480.3,1751.6 L2603.6,1694.9 M2632,1686.1 L2903.4,1640.6 M2932.3,1632.9 L3205.1,1532.9 M3232.6,1521 L3506.8,1382.8 "/>
<path d="M2466.7,1713.9 V1801.9 M2456.7,1713.9 h20 M2456.7,1801.9 h20 M2617.2,1646 V1726.8 M2607.2,1646 h20 M2607.2,1726.8 h20 M2918.2,1579.7 V1692.9 M2908.2,1579.7 h20 M2908.2,1692.9 h20 M3219.2,1429.3 V1624.8 M3209.2,1429.3 h20 M3209.2,1624.8 h20 M3520.2,1229.6 V1522.4 M3510.2,1229.6 h20 M3510.2,1522.4 h20 "/>
</g>
<path d="M2304.3,1883.8 L2328.1,1883.8 L2316.2,1863.9Z" fill="#00ff00"/>
<path d="M2454.8,1765.5 L2478.6,1765.5 L2466.7,1745.5Z" fill="#00ff00"/>
<path d="M2605.3,1696.2 L2629.1,1696.2 L2617.2,1676.3Z" fill="#00ff00"/>
<path d="M2906.3,1645.7 L2930.1,1645.7 L2918.2,1625.8Z" fill="#00ff00"/>
<path d="M3207.3,1535.3 L3231.1,1535.3 L3219.2,1515.4Z" fill="#00ff00"/>
<path d="M3508.3,1383.7 L3532.1,1383.7 L3520.2,1363.7Z" fill="#00ff00"/>
<g stroke="#0000ff" stroke-width="4.6" fill="none" stroke-linecap="round">
<path d="M2329.2,1868.7 L2453.7,1797.1 M2481.3,1786.3 L2602.6,1758.9 M2631.5,1751.1 L2903.9,1667.1 M2932.3,1657.6 L3205.1,1561.4 M3232.9,1550.4 L3506.5,1430 "/>
<path d="M2466.7,1680 V1902.2 M2456.7,1680 h20 M2456.7,1902.2 h20 M2617.2,1639.8 V1868.7 M2607.2,1639.8 h20 M2607.2,1868.7 h20 M2918.2,1553.8 V1776.1 M2908.2,1553.8 h20 M2908.2,1776.1 h20 M3219.2,1515.4 V1601.6 M3209.2,1515.4 h20 M3209.2,1601.6 h20 M3520.2,1218.2 V1624.8 M3510.2,1218.2 h20 M3510.2,1624.8 h20 "/>
</g>
<path d="M2304.3,1868.6 L2328.1,1868.6 L2316.2,1888.5Z" fill="#0000ff"/>
<path d="M2454.8,1782 L2478.6,1782 L2466.7,1802Z" fill="#0000ff"/>
<path d="M2605.3,1748 L2629.1,1748 L2617.2,1767.9Z" fill="#0000ff"/>
<path d="M2906.3,1655 L2930.1,1655 L2918.2,1675Z" fill="#0000ff"/>
<path d="M3207.3,1548.8 L3231.1,1548.8 L3219.2,1568.8Z" fill="#0000ff"/>
<path d="M3508.3,1416.4 L3532.1,1416.4 L3520.2,1436.3Z" fill="#0000ff"/>
<g stroke="#00ffff" stroke-width="4.6" fill="none" stroke-linecap="round">
<path d="M2330.6,1872.1 L2452.3,1837.1 M2480.8,1827.9 L2603.1,1784.5 M2631.9,1776.4 L2903.5,1719.1 M2932.4,1711.3 L3205,1619.8 M3234.2,1614 L3505.2,1594.9 "/>
<path d="M2466.7,1776.6 V1889.2 M2456.7,1776.6 h20 M2456.7,1889.2 h20 M2617.2,1752.1 V1805.9 M2607.2,1752.1 h20 M2607.2,1805.9 h20 M2918.2,1671.3 V1760.8 M2908.2,1671.3 h20 M2908.2,1760.8 h20 M3219.2,1562.5 V1672.7 M3209.2,1562.5 h20 M3209.2,1672.7 h20 M3520.2,1562.1 V1623.7 M3510.2,1562.1 h20 M3510.2,1623.7 h20 "/>
</g>
<path d="M2303.8,1876.2 L2316.2,1863.9 L2328.5,1876.2 L2316.2,1888.5Z" fill="#00ffff"/>
<path d="M2454.3,1832.9 L2466.7,1820.6 L2479,1832.9 L2466.7,1845.3Z" fill="#00ffff"/>
<path d="M2604.8,1779.5 L2617.2,1767.2 L2629.5,1779.5 L2617.2,1791.9Z" fill="#00ffff"/>
<path d="M2905.8,1716 L2918.2,1703.7 L2930.5,1716 L2918.2,1728.4Z" fill="#00ffff"/>
<path d="M3206.8,1615 L3219.2,1602.7 L3231.5,1615 L3219.2,1627.4Z" fill="#00ffff"/>
<path d="M3507.8,1593.8 L3520.2,1581.5 L3532.5,1593.8 L3520.2,1606.2Z" fill="#00ffff"/>
<g stroke="#ff00ff" stroke-width="4.6" fill="none" stroke-linecap="round">
<path d="M2331.2,1875.3 L2451.7,1868.4 M2479.5,1859.7 L2604.4,1783 M2632.1,1773.3 L2903.3,1739.4 M2933.1,1735.7 L3204.3,1703.2 M3234,1699.2 L3505.4,1658.7 "/>
<path d="M2466.7,1855.3 V1879.8 M2456.7,1855.3 h20 M2456.7,1879.8 h20 M2617.2,1713.1 V1837.5 M2607.2,1713.1 h20 M2607.2,1837.5 h20 M2918.2,1657.2 V1818.5 M2908.2,1657.2 h20 M2908.2,1818.5 h20 M3219.2,1619.5 V1781.4 M3209.2,1619.5 h20 M3209.2,1781.4 h20 M3520.2,1560.5 V1753.5 M3510.2,1560.5 h20 M3510.2,1753.5 h20 "/>
</g>
<path d="M2323.8,1864.3 L2323.8,1888.1 L2303.8,1876.2Z" fill="#ff00ff"/>
<path d="M2474.3,1855.7 L2474.3,1879.4 L2454.3,1867.5Z" fill="#ff00ff"/>
<path d="M2624.8,1763.3 L2624.8,1787.1 L2604.8,1775.2Z" fill="#ff00ff"/>
<path d="M2925.8,1725.7 L2925.8,1749.4 L2905.8,1737.5Z" fill="#ff00ff"/>
<path d="M3226.8,1689.6 L3226.8,1713.3 L3206.8,1701.5Z" fill="#ff00ff"/>
<path d="M3527.8,1644.6 L3527.8,1668.3 L3507.8,1656.4Z" fill="#ff00ff"/>
<g stroke="#ffff00" stroke-width="4.6" fill="none" stroke-linecap="round">
<path d="M2331.1,1877.8 L2451.8,1890.5 M2481.5,1889.9 L2602.4,1871.8 M2632.2,1869.2 L2903.2,1862.6 M2933.2,1861.4 L3204.2,1847.8 M3234.1,1848.4 L3505.3,1872.4 "/>
<path d="M2466.7,1866.1 V1918.8 M2456.7,1866.1 h20 M2456.7,1918.8 h20 M2617.2,1851.7 V1886.7 M2607.2,1851.7 h20 M2607.2,1886.7 h20 M2918.2,1844.9 V1877.6 M2908.2,1844.9 h20 M2908.2,1877.6 h20 M3219.2,1838.4 V1855.7 M3209.2,1838.4 h20 M3209.2,1855.7 h20 M3520.2,1801.9 V1945.5 M3510.2,1801.9 h20 M3510.2,1945.5 h20 "/>
</g>
<path d="M2308.6,1864.3 L2308.6,1888.1 L2328.5,1876.2Z" fill="#ffff00"/>
<path d="M2459.1,1880.2 L2459.1,1903.9 L2479,1892.1Z" fill="#ffff00"/>
<path d="M2609.6,1857.7 L2609.6,1881.4 L2629.5,1869.6Z" fill="#ffff00"/>
<path d="M2910.6,1850.3 L2910.6,1874.1 L2930.5,1862.2Z" fill="#ffff00"/>
<path d="M3211.6,1835.2 L3211.6,1858.9 L3231.5,1847.1Z" fill="#ffff00"/>
<path d="M3512.6,1861.9 L3512.6,1885.6 L3532.5,1873.7Z" fill="#ffff00"/>
<g font-family="Liberation Serif, serif" font-weight="bold" font-size="41.5" fill="#000">
<path d="M2413,959.4 H2455 M2504,959.4 H2547" stroke="#000000" stroke-width="4.6" stroke-linecap="round"/>
<rect x="2467.7" y="947" width="24.7" height="24.7" fill="#000000"/>
<text id="lg0" x="2599.8" y="971.8">Control</text>
<path d="M2413,1032 H2455 M2504,1032 H2547" stroke="#ff0000" stroke-width="4.6" stroke-linecap="round"/>
<circle cx="2480" cy="1032" r="13.7" fill="#ff0000"/>
<text id="lg1" x="2599.8" y="1044.4">Free siPlk1</text>
<path d="M2413,1104.6 H2455 M2504,1104.6 H2547" stroke="#00ff00" stroke-width="4.6" stroke-linecap="round"/>
<path d="M2463.8,1115 L2496.2,1115 L2480,1087.7Z" fill="#00ff00"/>
<text id="lg2" x="2599.8" y="1117">Free DOX</text>
<path d="M2413,1176.8 H2455 M2504,1176.8 H2547" stroke="#0000ff" stroke-width="4.6" stroke-linecap="round"/>
<path d="M2463.8,1166.4 L2496.2,1166.4 L2480,1193.7Z" fill="#0000ff"/>
<text id="lg3" x="2599.8" y="1189.2">Free siPlk1 + Free DOX</text>
<path d="M2413,1249.8 H2455 M2504,1249.8 H2547" stroke="#00ffff" stroke-width="4.6" stroke-linecap="round"/>
<path d="M2463.1,1249.8 L2480,1232.9 L2496.9,1249.8 L2480,1266.7Z" fill="#00ffff"/>
<text id="lg4" x="2599.8" y="1262.2">Nonsense siRNA-PCNPs/DOX</text>
<path d="M2413,1322.5 H2455 M2504,1322.5 H2547" stroke="#ff00ff" stroke-width="4.6" stroke-linecap="round"/>
<path d="M2490.4,1306.2 L2490.4,1338.8 L2463.1,1322.5Z" fill="#ff00ff"/>
<text id="lg5" x="2601.5" y="1334.9">siPlk1-NPs/DOX</text>
<path d="M2413,1395.1 H2455 M2504,1395.1 H2547" stroke="#ffff00" stroke-width="4.6" stroke-linecap="round"/>
<path d="M2469.6,1378.8 L2469.6,1411.3 L2496.9,1395.1Z" fill="#ffff00"/>
<text id="lg6" x="2608.2" y="1407.5">siPlk1-PCNPs/DOX</text>
</g>
<g font-family="Liberation Serif, serif" font-weight="bold" font-size="76.5" fill="#000" filter="url(#blur1)">
<text id="xt" x="2921.5" y="2204" text-anchor="middle">Day post initial treatment</text>
<text id="yt" transform="translate(2166,1516.5) rotate(-90)" text-anchor="middle">Relative tumor volume</text>
</g>
<path d="M3554,1649.6 H3570 Q3576,1649.6 3576,1655.6 V1866.8 Q3576,1872.8 3570,1872.8 H3554" fill="none" stroke="#000" stroke-width="8" stroke-linecap="round" stroke-linejoin="round" filter="url(#blur05)"/>
<g transform="translate(3618.5,1762.6)" fill="#000" filter="url(#blur05)">
<path transform="rotate(90)" d="M0,2 C-1.2,-6 -4.0,-18.0 -4.0,-25 C-4.0,-29.5 4.0,-29.5 4.0,-25 C4.0,-18.0 1.2,-6 0,2Z"/>
<path transform="rotate(18)" d="M0,2 C-1.2,-6 -4.2,-19.2 -4.2,-27 C-4.2,-31.5 4.2,-31.5 4.2,-27 C4.2,-19.2 1.2,-6 0,2Z"/>
<path transform="rotate(162)" d="M0,2 C-1.2,-6 -4.2,-19.2 -4.2,-27 C-4.2,-31.5 4.2,-31.5 4.2,-27 C4.2,-19.2 1.2,-6 0,2Z"/>
<path transform="rotate(-54)" d="M0,2 C-1.2,-6 -5.2,-20.5 -5.2,-29 C-5.2,-33.5 5.2,-33.5 5.2,-29 C5.2,-20.5 1.2,-6 0,2Z"/>
<path transform="rotate(234)" d="M0,2 C-1.2,-6 -5.2,-20.5 -5.2,-29 C-5.2,-33.5 5.2,-33.5 5.2,-29 C5.2,-20.5 1.2,-6 0,2Z"/>
</g>
</svg></body></html>
